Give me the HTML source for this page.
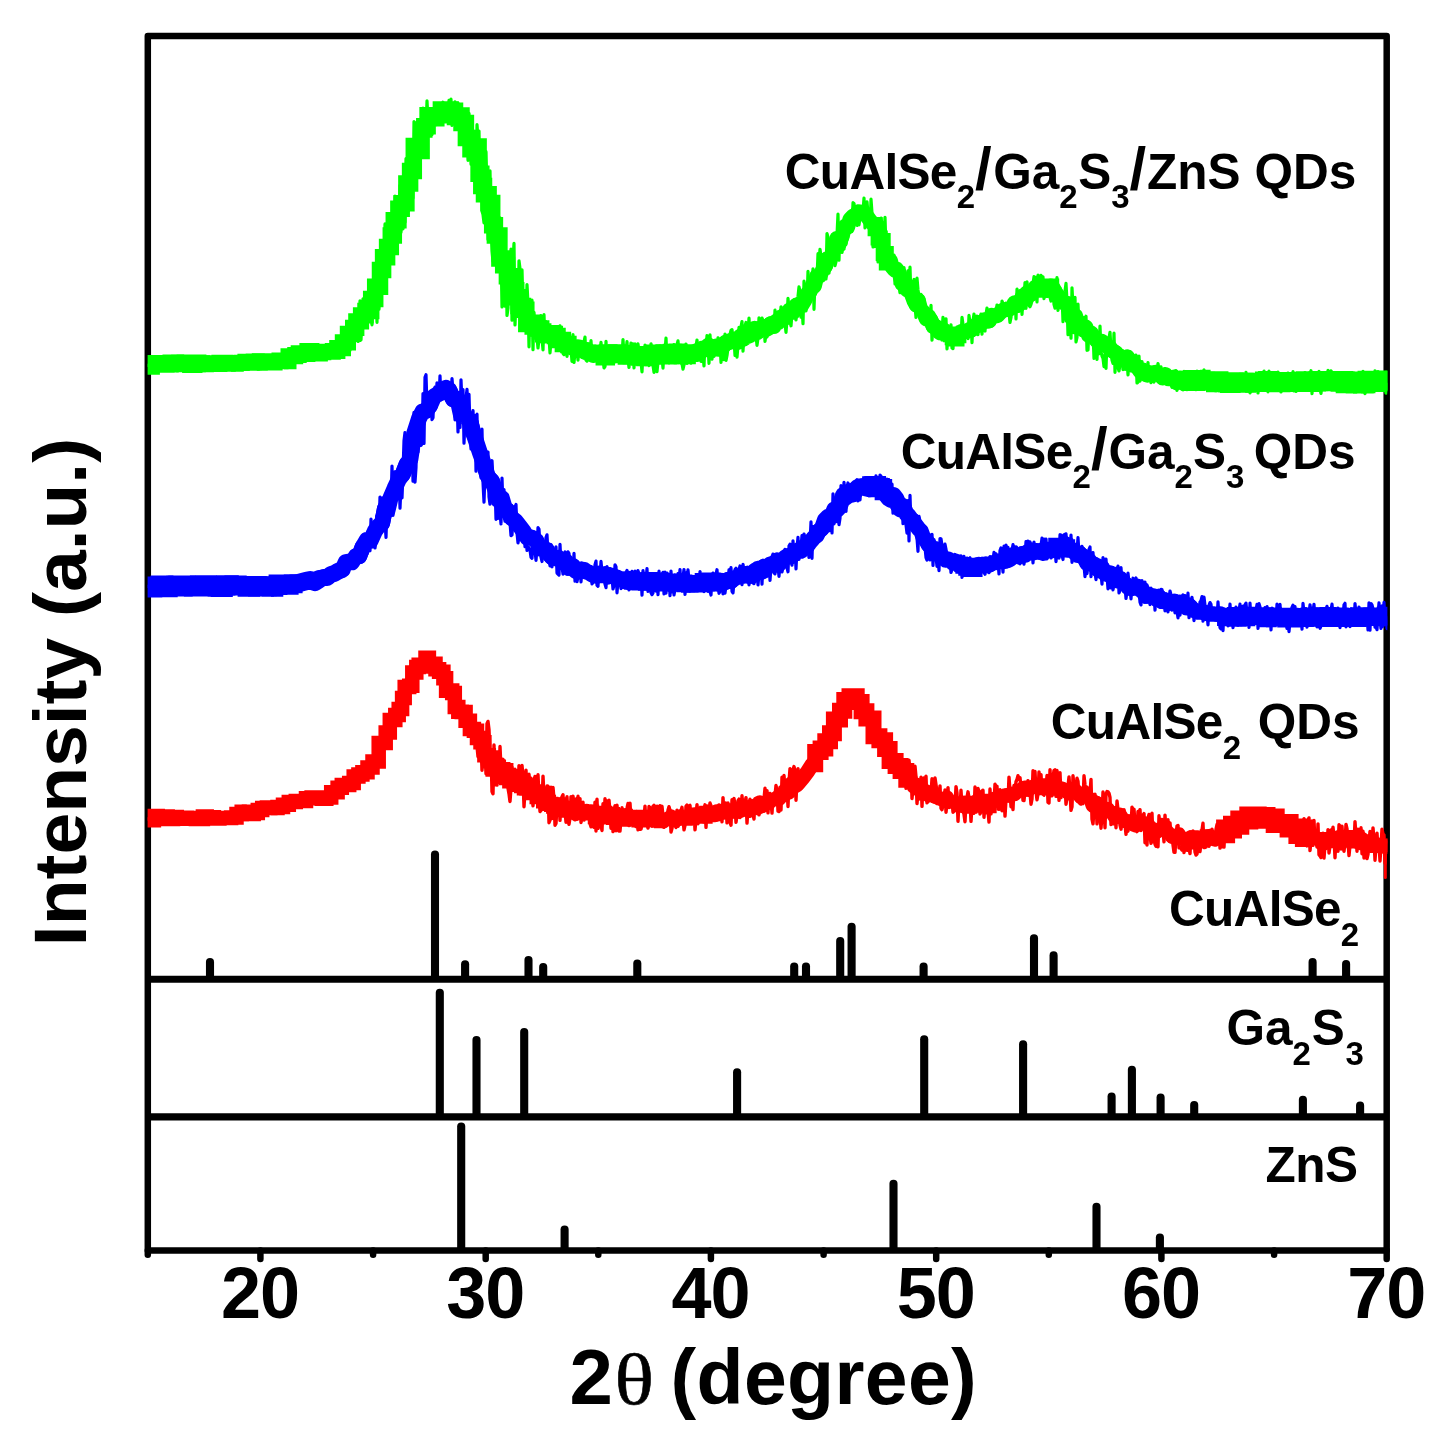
<!DOCTYPE html>
<html lang="en"><head><meta charset="utf-8"><title>XRD patterns</title>
<style>
html,body{margin:0;padding:0;background:#fff}
svg{display:block}
text{font-family:"Liberation Sans",sans-serif;font-weight:bold;fill:#000}
.s{font-size:33px}
</style></head><body>
<svg width="1449" height="1454" viewBox="0 0 1449 1454">
<rect width="1449" height="1454" fill="#fff"/>
<g stroke="#000" stroke-width="8.1" stroke-linecap="round">
<line x1="210" y1="977.8" x2="210" y2="962.0"/>
<line x1="435" y1="977.8" x2="435" y2="854.6"/>
<line x1="465.1" y1="977.8" x2="465.1" y2="964.2"/>
<line x1="528.5" y1="977.8" x2="528.5" y2="960.0"/>
<line x1="543.2" y1="977.8" x2="543.2" y2="967.0"/>
<line x1="637.3" y1="977.8" x2="637.3" y2="963.5"/>
<line x1="794.2" y1="977.8" x2="794.2" y2="966.6"/>
<line x1="806" y1="977.8" x2="806" y2="966.6"/>
<line x1="840.2" y1="977.8" x2="840.2" y2="941.0"/>
<line x1="851.6" y1="977.8" x2="851.6" y2="926.8"/>
<line x1="923.6" y1="977.8" x2="923.6" y2="966.6"/>
<line x1="1034" y1="977.8" x2="1034" y2="938.3"/>
<line x1="1053.6" y1="977.8" x2="1053.6" y2="955.4"/>
<line x1="1312.6" y1="977.8" x2="1312.6" y2="962.0"/>
<line x1="1346.1" y1="977.8" x2="1346.1" y2="964.1"/>
<line x1="439.8" y1="1115.4" x2="439.8" y2="992.8"/>
<line x1="476.5" y1="1115.4" x2="476.5" y2="1040.0"/>
<line x1="524.2" y1="1115.4" x2="524.2" y2="1032.0"/>
<line x1="737.1" y1="1115.4" x2="737.1" y2="1072.3"/>
<line x1="924.2" y1="1115.4" x2="924.2" y2="1039.2"/>
<line x1="1023.1" y1="1115.4" x2="1023.1" y2="1044.2"/>
<line x1="1111.6" y1="1115.4" x2="1111.6" y2="1096.5"/>
<line x1="1131.9" y1="1115.4" x2="1131.9" y2="1069.8"/>
<line x1="1160.6" y1="1115.4" x2="1160.6" y2="1097.5"/>
<line x1="1194.2" y1="1115.4" x2="1194.2" y2="1105.0"/>
<line x1="1302.9" y1="1115.4" x2="1302.9" y2="1099.8"/>
<line x1="1360.1" y1="1115.4" x2="1360.1" y2="1105.5"/>
<line x1="461.2" y1="1248.9" x2="461.2" y2="1126.5"/>
<line x1="564.6" y1="1248.9" x2="564.6" y2="1229.6"/>
<line x1="893.5" y1="1248.9" x2="893.5" y2="1183.8"/>
<line x1="1096.5" y1="1248.9" x2="1096.5" y2="1206.8"/>
<line x1="1159.9" y1="1248.9" x2="1159.9" y2="1237.5"/>
</g>
<rect x="147.8" y="35.9" width="1238.9" height="1214.5" fill="none" stroke="#000" stroke-width="6.5" stroke-linejoin="round"/>
<line x1="147.8" y1="979.3" x2="1386.7" y2="979.3" stroke="#000" stroke-width="6.9"/>
<line x1="147.8" y1="1116.9" x2="1386.7" y2="1116.9" stroke="#000" stroke-width="7.1"/>
<g stroke="#000" stroke-width="6.5" stroke-linecap="round">
<line x1="147.8" y1="1250.4" x2="147.8" y2="1254.7"/>
<line x1="260.4" y1="1250.4" x2="260.4" y2="1259.0"/>
<line x1="373.1" y1="1250.4" x2="373.1" y2="1254.7"/>
<line x1="485.7" y1="1250.4" x2="485.7" y2="1259.0"/>
<line x1="598.3" y1="1250.4" x2="598.3" y2="1254.7"/>
<line x1="710.9" y1="1250.4" x2="710.9" y2="1259.0"/>
<line x1="823.6" y1="1250.4" x2="823.6" y2="1254.7"/>
<line x1="936.2" y1="1250.4" x2="936.2" y2="1259.0"/>
<line x1="1048.8" y1="1250.4" x2="1048.8" y2="1254.7"/>
<line x1="1161.4" y1="1250.4" x2="1161.4" y2="1259.0"/>
<line x1="1274.1" y1="1250.4" x2="1274.1" y2="1254.7"/>
<line x1="1386.7" y1="1250.4" x2="1386.7" y2="1259.0"/>
</g>
<clipPath id="cp"><rect x="147.6" y="0" width="1239.8" height="1454"/></clipPath>
<g clip-path="url(#cp)">
<g id="red"><g stroke="#ff0000" fill="none" stroke-linejoin="miter" stroke-miterlimit="10">
<path d="M147.0,820.3H153.9V816.1H157.7V816.8H163.2V816.5H167.7V818.9H173.0V817.0H176.8V818.7H181.8" stroke-width="14.5"/>
<path d="M176.8,818.7H181.8V817.7H186.9V818.4H190.5V818.1H195.9V819.0H202.9V816.5H206.7V817.2H213.9" stroke-width="14.5"/>
<path d="M206.7,817.2H213.9V818.5H219.4V817.9H223.8V818.1H231.1V817.4H236.5V813.9H241.7V811.7H246.8" stroke-width="14.5"/>
<path d="M241.7,811.7H246.8V814.1H253.7V812.9H257.8V809.9H262.2V808.1H266.9V807.4H270.7V808.0H277.5" stroke-width="14.5"/>
<path d="M270.7,808.0H277.5V806.9H283.0V804.8H288.8V801.9H295.8V801.1H301.3V801.1H306.0V798.3H311.6" stroke-width="14.5"/>
<path d="M306.0,798.3H311.6V797.6H317.1V797.6H321.8V798.8H326.3V797.4H331.2V792.2H337.6V787.7H341.8" stroke-width="14.5"/>
<path d="M337.6,787.7H341.8V784.9H349.2V782.9H353.7V776.6H358.4V774.4H362.4V772.3H367.5V767.5H372.5" stroke-width="14.5"/>
<path d="M367.5,767.5H372.5V761.5H378.7V743.0H385.7V732.5H389.8V719.9H395.3V715.0H398.7V709.1H402.1" stroke-width="14.5"/>
<path d="M398.7,709.1H402.1V698.0H404.7V687.1H409.2V685.7H412.3V672.4H416.3V666.9H418.7V664.8H422.7" stroke-width="14.5"/>
<path d="M418.7,664.8H422.7V666.4H425.5V657.8H428.9V664.0H432.8V663.8H435.5V669.2H439.1V671.8H443.4" stroke-width="14.5"/>
<path d="M439.1,671.8H443.4V678.3H446.1V690.7H449.5V690.6H452.2V693.1H454.8V706.9H458.3V711.7H461.7" stroke-width="14.5"/>
<path d="M458.3,711.7H461.7V712.0H465.6V720.8H469.9V728.9H473.9V730.8H477.0V738.0H480.5V742.3H484.4" stroke-width="14.5"/>
<path d="M480.5,742.3H484.4V755.3H488.8V757.4H492.7V769.6H496.2V766.8H498.8V769.3H503.2V770.3H506.2" stroke-width="14.5"/>
<path d="M503.2,770.3H506.2V777.9H509.4V781.3H513.9V780.1H516.7V784.7H521.2V786.0H524.0V788.3H526.4" stroke-width="14.5"/>
<path d="M524.0,788.3H526.4V788.4H529.8V793.1H533.7V791.5H536.7V797.0H540.5V796.9H543.2V801.4H546.8" stroke-width="14.4"/>
<path d="M543.2,801.4H546.8V802.0H548.9V803.8H551.2V804.9H553.2V806.6H556.3V804.4H558.9V804.9H561.7" stroke-width="14.3"/>
<path d="M557.6,804.4 560.3,804.9 562.7,810.6 565.2,806.9 568.3,808.2 570.9,808.2 572.9,811.1 575.5,813.8" stroke-width="14.2" stroke-linejoin="round" stroke-linecap="round"/>
<path d="M572.9,811.1 575.5,813.8 578.7,811.3 581.8,811.6 584.4,812.3 586.7,810.9 588.9,811.5 591.0,811.5" stroke-width="14.2" stroke-linejoin="round" stroke-linecap="round"/>
<path d="M589.8,811.5H592.1V813.4H594.8V817.3H596.9V812.7H599.2V815.2H601.5V813.5H603.3V812.7H605.0" stroke-width="14.1"/>
<path d="M603.3,812.7H605.0V817.4H608.0V813.6H609.6V813.9H613.0V818.1H616.2V815.3H619.5V815.4H622.5" stroke-width="14.0"/>
<path d="M619.5,815.4H622.5V819.8H624.2V815.7H626.0V819.5H628.2V816.7H630.1V818.2H631.8V816.9H635.1" stroke-width="13.9"/>
<path d="M631.8,816.9H635.1V817.2H638.3V820.7H641.3V820.6H643.3V816.7H646.4V819.9H649.5V816.8H651.7" stroke-width="13.8"/>
<path d="M649.5,816.8H651.7V817.9H653.5V816.8H655.4V820.3H657.7V821.0H660.8V821.3H662.6V821.5H665.0" stroke-width="13.7"/>
<path d="M661.7,821.3 663.8,821.5 666.1,819.3 668.8,817.8 671.3,816.3 673.7,818.2 676.2,820.4 678.6,817.1" stroke-width="13.7" stroke-linejoin="round" stroke-linecap="round"/>
<path d="M677.2,817.1H680.0V817.6H683.1V818.9H686.1V818.3H689.2V817.4H691.4V816.4H693.5V814.2H695.3" stroke-width="13.6"/>
<path d="M693.5,814.2H695.3V816.9H697.4V814.8H699.2V816.2H702.2V813.2H703.9V817.1H705.9V812.4H708.9" stroke-width="13.5"/>
<path d="M704.9,817.1 707.4,812.4 710.4,815.5 713.5,815.6 716.3,811.1 718.3,814.8 720.7,813.3 723.3,812.7" stroke-width="13.5" stroke-linejoin="round" stroke-linecap="round"/>
<path d="M722.2,812.7H724.4V810.5H727.3V810.6H729.0V809.9H730.7V810.9H733.4V811.7H736.2V811.9H738.8" stroke-width="13.5"/>
<path d="M734.8,811.7 737.5,811.9 740.1,811.4 742.7,808.9 744.9,808.4 746.7,810.5 748.7,811.2 751.1,806.1" stroke-width="13.5" stroke-linejoin="round" stroke-linecap="round"/>
<path d="M748.7,811.2 751.1,806.1 753.5,806.5 755.5,805.1 757.6,808.5 760.0,802.0 762.2,806.4 764.9,804.7" stroke-width="13.5" stroke-linejoin="round" stroke-linecap="round"/>
<path d="M762.2,806.4 764.9,804.7 768.2,800.9 770.6,802.0 772.7,799.2 775.0,799.7 777.1,797.2 779.1,799.2" stroke-width="13.5" stroke-linejoin="round" stroke-linecap="round"/>
<path d="M777.1,797.2 779.1,799.2 780.8,795.0 782.5,796.3 784.3,793.3 786.6,789.8 788.8,792.1 791.3,783.8" stroke-width="13.5" stroke-linejoin="round" stroke-linecap="round"/>
<path d="M788.8,792.1 791.3,783.8 794.4,786.2 797.0,784.7 799.4,782.0 803.2,777.4 807.5,771.8 812.3,764.2" stroke-width="14.9" stroke-linejoin="round" stroke-linecap="round"/>
<path d="M809.5,764.2H815.2V751.9H820.6V748.5H825.3V741.3H830.0V733.2H833.9V719.4H840.0V710.8H844.3" stroke-width="16.0"/>
<path d="M840.0,710.8H844.3V700.1H849.5V696.3H856.7V702.1H861.6V711.3H866.4V718.4H873.5V736.2H879.4" stroke-width="16.0"/>
<path d="M873.5,736.2H879.4V740.3H885.1V749.1H889.6V761.1H895.6V766.0H900.6V771.1H906.3V779.8H909.9" stroke-width="16.0"/>
<path d="M903.5,771.1 908.1,779.8 910.8,778.4 913.3,786.7 916.3,784.3 919.4,790.8 922.1,789.9 924.2,794.0" stroke-width="13.5" stroke-linejoin="round" stroke-linecap="round"/>
<path d="M922.1,789.9 924.2,794.0 926.2,790.9 928.2,795.8 930.4,792.9 932.5,794.8 934.5,796.9 936.6,797.3" stroke-width="13.5" stroke-linejoin="round" stroke-linecap="round"/>
<path d="M934.5,796.9 936.6,797.3 939.2,798.9 942.0,799.8 944.7,797.9 947.1,796.9 949.0,801.5 951.6,801.7" stroke-width="13.5" stroke-linejoin="round" stroke-linecap="round"/>
<path d="M949.0,801.5 951.6,801.7 954.1,802.6 955.8,802.9 957.9,806.0 960.3,802.7 962.3,806.4 964.7,802.4" stroke-width="13.5" stroke-linejoin="round" stroke-linecap="round"/>
<path d="M963.3,802.4H966.0V805.5H968.7V807.0H970.6V802.5H973.2V806.0H975.6V803.2H978.7V802.0H980.5" stroke-width="13.5"/>
<path d="M978.7,802.0H980.5V804.1H982.5V805.5H985.1V803.0H986.8V806.6H989.9V800.6H993.2V801.4H995.4" stroke-width="13.5"/>
<path d="M991.6,800.6 994.3,801.4 996.9,800.8 999.5,799.8 1002.1,798.1 1004.8,795.0 1006.6,795.2 1008.3,794.6" stroke-width="13.5" stroke-linejoin="round" stroke-linecap="round"/>
<path d="M1006.6,795.2 1008.3,794.6 1010.4,796.2 1012.4,793.3 1014.9,794.4 1018.0,791.4 1020.6,789.8 1023.3,787.7" stroke-width="13.5" stroke-linejoin="round" stroke-linecap="round"/>
<path d="M1020.6,789.8 1023.3,787.7 1025.9,787.2 1028.6,790.3 1031.6,786.8 1034.3,785.6 1036.5,784.8 1038.5,788.4" stroke-width="13.5" stroke-linejoin="round" stroke-linecap="round"/>
<path d="M1037.6,788.4H1039.5V787.3H1041.6V787.2H1043.9V787.9H1045.6V784.9H1048.9V788.4H1051.0V785.1H1053.5" stroke-width="13.5"/>
<path d="M1049.9,788.4 1052.2,785.1 1054.4,789.1 1056.6,787.5 1059.2,790.1 1061.5,788.0 1064.1,789.3 1066.7,791.8" stroke-width="13.5" stroke-linejoin="round" stroke-linecap="round"/>
<path d="M1064.1,789.3 1066.7,791.8 1068.7,793.8 1071.2,790.8 1073.7,790.4 1076.4,790.9 1079.0,795.3 1081.1,797.6" stroke-width="13.5" stroke-linejoin="round" stroke-linecap="round"/>
<path d="M1079.0,795.3 1081.1,797.6 1083.6,793.1 1086.6,797.0 1089.8,798.2 1092.4,805.9 1094.8,801.8 1097.2,802.9" stroke-width="13.5" stroke-linejoin="round" stroke-linecap="round"/>
<path d="M1094.8,801.8 1097.2,802.9 1099.8,809.0 1102.2,811.6 1104.8,811.4 1107.7,808.5 1110.1,811.6 1112.2,813.3" stroke-width="13.5" stroke-linejoin="round" stroke-linecap="round"/>
<path d="M1110.1,811.6 1112.2,813.3 1114.4,816.8 1117.1,817.3 1120.0,814.2 1122.5,818.1 1125.5,821.5 1128.3,821.0" stroke-width="13.5" stroke-linejoin="round" stroke-linecap="round"/>
<path d="M1125.5,821.5 1128.3,821.0 1131.1,822.6 1133.8,825.1 1135.7,825.7 1137.4,825.2 1139.7,824.2 1142.3,823.2" stroke-width="13.5" stroke-linejoin="round" stroke-linecap="round"/>
<path d="M1139.7,824.2 1142.3,823.2 1145.0,822.9 1147.8,823.7 1150.5,827.3 1153.0,828.8 1155.5,830.1 1158.2,831.4" stroke-width="13.5" stroke-linejoin="round" stroke-linecap="round"/>
<path d="M1155.5,830.1 1158.2,831.4 1160.8,828.4 1163.2,829.7 1166.0,829.9 1169.2,833.3 1171.9,836.9 1173.9,836.4" stroke-width="13.5" stroke-linejoin="round" stroke-linecap="round"/>
<path d="M1171.9,836.9 1173.9,836.4 1176.3,835.1 1179.1,834.2 1181.9,839.0 1185.1,839.9 1187.7,839.5 1190.4,837.0" stroke-width="13.5" stroke-linejoin="round" stroke-linecap="round"/>
<path d="M1188.8,837.0H1191.9V837.9H1194.5V839.3H1197.4V841.4H1200.6V837.3H1203.2V838.3H1206.5V836.1H1208.8" stroke-width="13.5"/>
<path d="M1204.8,838.3 1207.6,836.1 1209.9,835.6 1212.5,836.8 1215.0,839.9 1217.6,838.6 1220.3,836.4 1223.6,833.8" stroke-width="13.5" stroke-linejoin="round" stroke-linecap="round"/>
<path d="M1221.6,833.8H1225.6V828.9H1232.5V825.2H1239.8V819.9H1248.8V816.1H1257.2V816.5H1266.0V819.3H1270.6" stroke-width="19.0"/>
<path d="M1266.0,819.3H1270.6V818.0H1275.2V823.5H1282.9V823.6H1289.1V827.9H1297.9V834.6H1304.4V837.5H1308.4" stroke-width="19.0"/>
<path d="M1301.1,834.6 1306.4,837.5 1309.4,833.6 1311.8,838.0 1314.7,838.5 1317.9,838.4 1320.6,841.6 1323.0,841.1" stroke-width="13.5" stroke-linejoin="round" stroke-linecap="round"/>
<path d="M1321.8,841.1H1324.2V838.7H1326.8V840.3H1329.0V841.5H1331.5V840.9H1334.8V840.3H1338.0V841.4H1340.1" stroke-width="13.5"/>
<path d="M1338.0,841.4H1340.1V837.6H1343.0V836.9H1346.2V836.7H1348.5V840.2H1351.6V839.1H1354.6V841.7H1357.8" stroke-width="13.5"/>
<path d="M1353.1,839.1 1356.2,841.7 1358.7,842.9 1361.2,838.1 1364.5,840.4 1367.2,841.4 1369.6,843.2 1371.8,846.3" stroke-width="13.5" stroke-linejoin="round" stroke-linecap="round"/>
<path d="M1369.6,843.2 1371.8,846.3 1374.1,845.0 1376.8,843.8 1379.7,846.7 1382.8,845.4 1385.4,847.6 1387.2,845.3" stroke-width="13.5" stroke-linejoin="round" stroke-linecap="round"/>
<path d="M1386.5,845.3H1388.0" stroke-width="13.5"/>
<path d="M147.0,819.0 148.0,818.9 149.0,818.9 150.0,818.8 151.0,818.7 152.0,818.7 153.0,818.6 154.0,818.5 155.0,818.5 156.0,818.4 157.0,818.3 158.0,818.3 159.0,818.2 160.0,818.1 161.0,818.1 162.0,818.0 163.0,817.9 164.0,817.9 165.0,817.8 166.0,817.8 167.0,817.7 168.0,817.7 169.0,817.6 170.0,817.5 171.0,817.5 172.0,817.5 173.0,817.4 174.0,817.3 175.0,817.3 176.0,817.2 177.0,817.2 178.0,817.1 179.0,817.1 180.0,817.0 181.0,817.0 182.0,817.0 183.0,816.9 184.0,816.9 185.0,816.8 186.0,816.8 187.0,816.8 188.0,816.8 189.0,816.7 190.0,816.7 191.0,816.7 192.0,816.7 193.0,816.7 194.0,816.8 195.0,816.8 196.0,816.8 197.0,816.9 198.0,817.0 199.0,817.1 200.0,817.1 201.0,817.2 202.0,817.3 203.0,817.4 204.0,817.5 205.0,817.6 206.0,817.7 207.0,817.8 208.0,817.8 209.0,817.9 210.0,817.9 211.0,818.0 212.0,818.0 213.0,818.0 214.0,818.0 215.0,817.9 216.0,817.9 217.0,817.8 218.0,817.8 219.0,817.7 220.0,817.6 221.0,817.5 222.0,817.4 223.0,817.3 224.0,817.2 225.0,817.1 226.0,816.9 227.0,816.8 228.0,816.7 229.0,816.5 230.0,816.4 231.0,816.3 232.0,816.1 233.0,816.0 234.0,815.9 235.0,815.7 236.0,815.5 237.0,815.4 238.0,815.2 239.0,815.0 240.0,814.8 241.0,814.6 242.0,814.4 243.0,814.2 244.0,813.9 245.0,813.7 246.0,813.5 247.0,813.3 248.0,813.1 249.0,812.9 250.0,812.7 251.0,812.5 252.0,812.3 253.0,812.2 254.0,812.0 255.0,811.9 256.0,811.7 257.0,811.6 258.0,811.5 259.0,811.4 260.0,811.3 261.0,811.1 262.0,811.0 263.0,810.9 264.0,810.8 265.0,810.7 266.0,810.6 267.0,810.5 268.0,810.4 269.0,810.3 270.0,810.2 271.0,810.0 272.0,809.9 273.0,809.7 274.0,809.6 275.0,809.4 276.0,809.2 277.0,809.0 278.0,808.8 279.0,808.6 280.0,808.3 281.0,808.0 282.0,807.8 283.0,807.5 284.0,807.2 285.0,806.9 286.0,806.6 287.0,806.3 288.0,806.0 289.0,805.7 290.0,805.4 291.0,805.1 292.0,804.8 293.0,804.5 294.0,804.3 295.0,804.0 296.0,803.8 297.0,803.5 298.0,803.3 299.0,803.0 300.0,802.8 301.0,802.6 302.0,802.4 303.0,802.1 304.0,801.9 305.0,801.7 306.0,801.5 307.0,801.2 308.0,801.0 309.0,800.8 310.0,800.5 311.0,800.3 312.0,800.1 313.0,799.8 314.0,799.5 315.0,799.3 316.0,799.0 317.0,798.7 318.0,798.4 319.0,798.1 320.0,797.8 321.0,797.5 322.0,797.2 323.0,796.9 324.0,796.6 325.0,796.3 326.0,796.0 327.0,795.6 328.0,795.3 329.0,794.9 330.0,794.5 331.0,794.2 332.0,793.8 333.0,793.4 334.0,793.0 335.0,792.5 336.0,792.1 337.0,791.6 338.0,791.1 339.0,790.6 340.0,790.1 341.0,789.5 342.0,788.9 343.0,788.3 344.0,787.7 345.0,787.0 346.0,786.3 347.0,785.5 348.0,784.7 349.0,783.9 350.0,783.0 351.0,782.0 352.0,781.1 353.0,780.1 354.0,779.1 355.0,778.2 356.0,777.2 357.0,776.4 358.0,775.6 359.0,774.9 360.0,774.2 361.0,773.6 362.0,773.0 363.0,772.4 364.0,771.7 365.0,771.0 366.0,770.3 367.0,769.5 368.0,768.6 369.0,767.6 370.0,766.5 371.0,765.3 372.0,764.0 373.0,762.7 374.0,761.2 375.0,759.7 376.0,758.2 377.0,756.6 378.0,754.9 379.0,753.1 380.0,751.2 381.0,749.2 382.0,747.2 383.0,745.0 384.0,742.8 385.0,740.5 386.0,738.3 387.0,736.1 388.0,733.9 389.0,731.7 390.0,729.6 391.0,727.5 392.0,725.4 393.0,723.2 394.0,721.1 395.0,719.0 396.0,716.9 397.0,714.8 398.0,712.7 399.0,710.6 400.0,708.5 401.0,706.4 402.0,704.4 403.0,702.3 404.0,700.2 405.0,698.2 406.0,696.1 407.0,694.1 408.0,692.0 409.0,690.0 410.0,687.9 411.0,685.8 412.0,683.8 413.0,681.7 414.0,679.6 415.0,677.6 416.0,675.6 417.0,673.6 418.0,671.7 419.0,669.9 420.0,668.0 421.0,666.2 422.0,664.3 423.0,662.6 424.0,661.1 425.0,660.0 426.0,659.3 427.0,659.1 428.0,659.3 429.0,659.9 430.0,660.8 431.0,661.7 432.0,662.8 433.0,664.1 434.0,665.4 435.0,667.0 436.0,668.6 437.0,670.3 438.0,672.1 439.0,673.9 440.0,675.6 441.0,677.3 442.0,678.9 443.0,680.4 444.0,681.9 445.0,683.3 446.0,684.7 447.0,686.0 448.0,687.4 449.0,688.8 450.0,690.3 451.0,691.7 452.0,693.3 453.0,694.9 454.0,696.6 455.0,698.4 456.0,700.2 457.0,702.1 458.0,704.0 459.0,705.9 460.0,707.8 461.0,709.7 462.0,711.5 463.0,713.3 464.0,715.1 465.0,716.8 466.0,718.5 467.0,720.2 468.0,721.9 469.0,723.5 470.0,725.1 471.0,726.8 472.0,728.4 473.0,730.0 474.0,731.5 475.0,733.1 476.0,734.6 477.0,746.3 478.0,756.6 479.0,757.2 480.0,731.4 481.0,742.5 482.0,770.2 483.0,745.8 484.0,766.8 485.0,750.9 486.0,773.7 487.0,723.7 488.0,721.4 489.0,729.6 490.0,754.8 491.0,752.3 492.0,791.5 493.0,793.8 494.0,745.0 495.0,784.8 496.0,768.0 497.0,785.1 498.0,762.0 499.0,782.4 500.0,746.5 501.0,768.5 502.0,762.5 503.0,759.3 504.0,762.1 505.0,768.6 506.0,773.5 507.0,776.2 508.0,788.2 509.0,793.9 510.0,801.5 511.0,787.9 512.0,767.1 513.0,784.9 514.0,778.2 515.0,769.3 516.0,774.7 517.0,770.9 518.0,786.0 519.0,765.6 520.0,787.3 521.0,781.6 522.0,765.5 523.0,777.0 524.0,806.7 525.0,791.3 526.0,770.2 527.0,792.2 528.0,797.9 529.0,774.3 530.0,785.7 531.0,778.2 532.0,793.1 533.0,805.8 534.0,780.4 535.0,776.5 536.0,776.9 537.0,799.8 538.0,774.8 539.0,797.2 540.0,811.5 541.0,810.4 542.0,806.7 543.0,776.2 544.0,796.3 545.0,788.4 546.0,802.0 547.0,786.0 548.0,786.2 549.0,822.7 550.0,820.1 551.0,787.2 552.0,818.5 553.0,787.5 554.0,798.8 555.0,825.3 556.0,823.4 557.0,805.2 558.0,814.8 559.0,802.4 560.0,820.4 561.0,800.5 562.0,796.7 563.0,794.8 564.0,813.2 565.0,810.5 566.0,822.2 567.0,796.7 568.0,819.5 569.0,824.3 570.0,818.1 571.0,796.6 572.0,798.1 573.0,796.2 574.0,804.6 575.0,819.9 576.0,798.9 577.0,809.5 578.0,796.3 579.0,818.2 580.0,798.6 581.0,822.5 582.0,816.7 583.0,802.3 584.0,820.0 585.0,808.0 586.0,814.3 587.0,815.7 588.0,805.9 589.0,810.9 590.0,823.6 591.0,826.8 592.0,826.3 593.0,816.9 594.0,827.3 595.0,802.1 596.0,831.0 597.0,799.2 598.0,828.4 599.0,825.0 600.0,810.9 601.0,825.1 602.0,830.5 603.0,803.7 604.0,820.6 605.0,798.8 606.0,821.2 607.0,800.9 608.0,821.5 609.0,800.1 610.0,812.4 611.0,828.2 612.0,809.4 613.0,831.6 614.0,815.2 615.0,805.8 616.0,830.7 617.0,805.3 618.0,820.0 619.0,831.1 620.0,831.1 621.0,819.0 622.0,807.8 623.0,817.3 624.0,810.6 625.0,811.4 626.0,811.6 627.0,808.2 628.0,803.5 629.0,825.6 630.0,803.1 631.0,820.3 632.0,813.7 633.0,822.7 634.0,820.6 635.0,817.3 636.0,826.5 637.0,820.5 638.0,829.9 639.0,820.9 640.0,829.3 641.0,829.0 642.0,824.6 643.0,813.2 644.0,818.0 645.0,806.2 646.0,825.3 647.0,823.1 648.0,828.1 649.0,806.5 650.0,807.7 651.0,823.4 652.0,826.0 653.0,806.4 654.0,805.3 655.0,813.8 656.0,814.4 657.0,806.2 658.0,807.7 659.0,810.8 660.0,805.7 661.0,809.5 662.0,806.3 663.0,816.0 664.0,827.3 665.0,824.9 666.0,823.2 667.0,818.8 668.0,810.2 669.0,806.7 670.0,810.2 671.0,832.0 672.0,828.2 673.0,820.9 674.0,822.0 675.0,825.5 676.0,827.4 677.0,810.1 678.0,826.4 679.0,821.8 680.0,810.6 681.0,810.7 682.0,807.3 683.0,818.2 684.0,829.9 685.0,825.3 686.0,806.3 687.0,805.0 688.0,809.5 689.0,806.1 690.0,805.4 691.0,823.0 692.0,810.2 693.0,817.9 694.0,810.0 695.0,829.8 696.0,818.5 697.0,804.7 698.0,823.7 699.0,808.8 700.0,813.7 701.0,808.5 702.0,814.6 703.0,808.8 704.0,809.1 705.0,804.8 706.0,827.4 707.0,805.9 708.0,807.8 709.0,811.3 710.0,803.0 711.0,805.9 712.0,810.8 713.0,816.1 714.0,814.5 715.0,809.3 716.0,818.3 717.0,820.1 718.0,806.0 719.0,805.1 720.0,816.3 721.0,809.7 722.0,821.8 723.0,797.6 724.0,813.5 725.0,807.2 726.0,803.1 727.0,822.8 728.0,803.0 729.0,820.3 730.0,822.0 731.0,825.2 732.0,799.7 733.0,800.7 734.0,798.6 735.0,805.6 736.0,822.3 737.0,814.9 738.0,800.6 739.0,799.1 740.0,817.5 741.0,813.8 742.0,795.8 743.0,812.5 744.0,800.5 745.0,803.2 746.0,797.6 747.0,823.1 748.0,807.2 749.0,812.0 750.0,799.3 751.0,803.9 752.0,812.1 753.0,814.7 754.0,819.0 755.0,798.8 756.0,798.3 757.0,802.8 758.0,799.6 759.0,814.9 760.0,800.7 761.0,800.4 762.0,804.2 763.0,805.9 764.0,798.8 765.0,788.3 766.0,810.1 767.0,790.6 768.0,812.9 769.0,793.6 770.0,793.4 771.0,802.0 772.0,813.1 773.0,795.8 774.0,798.6 775.0,795.9 776.0,785.5 777.0,790.5 778.0,811.2 779.0,811.5 780.0,787.1 781.0,810.0 782.0,777.2 783.0,801.9 784.0,775.5 785.0,789.1 786.0,787.7 787.0,787.6 788.0,806.5 789.0,782.3 790.0,768.7 791.0,771.1 792.0,795.4 793.0,770.0 794.0,766.6 795.0,770.8 796.0,800.2 797.0,779.0 798.0,768.6 799.0,785.1 800.0,775.4 801.0,779.8 802.0,777.7 803.0,776.8 804.0,775.9 805.0,774.7 806.0,773.4 807.0,771.8 808.0,770.0 809.0,768.0 810.0,766.0 811.0,763.8 812.0,761.7 813.0,759.7 814.0,757.9 815.0,756.2 816.0,754.7 817.0,753.4 818.0,752.2 819.0,751.0 820.0,749.9 821.0,748.8 822.0,747.6 823.0,746.4 824.0,745.1 825.0,743.7 826.0,742.2 827.0,740.5 828.0,738.6 829.0,736.6 830.0,734.5 831.0,732.4 832.0,730.2 833.0,728.0 834.0,725.9 835.0,723.8 836.0,721.7 837.0,719.7 838.0,717.7 839.0,715.7 840.0,713.8 841.0,711.8 842.0,710.0 843.0,708.2 844.0,706.5 845.0,705.0 846.0,703.6 847.0,702.2 848.0,700.9 849.0,699.7 850.0,698.7 851.0,698.0 852.0,697.6 853.0,697.8 854.0,698.4 855.0,699.4 856.0,700.5 857.0,701.7 858.0,702.9 859.0,704.0 860.0,705.2 861.0,706.3 862.0,707.5 863.0,708.7 864.0,709.9 865.0,711.2 866.0,712.6 867.0,714.2 868.0,715.8 869.0,717.6 870.0,719.6 871.0,721.6 872.0,723.7 873.0,725.9 874.0,728.0 875.0,730.2 876.0,732.2 877.0,734.1 878.0,736.0 879.0,737.8 880.0,739.5 881.0,741.2 882.0,742.8 883.0,744.5 884.0,746.1 885.0,747.6 886.0,749.2 887.0,750.7 888.0,752.2 889.0,753.8 890.0,755.2 891.0,756.7 892.0,758.2 893.0,759.6 894.0,761.0 895.0,762.4 896.0,763.8 897.0,765.1 898.0,766.4 899.0,767.6 900.0,768.8 901.0,770.0 902.0,771.1 903.0,772.2 904.0,773.3 905.0,774.4 906.0,788.3 907.0,762.4 908.0,785.8 909.0,760.3 910.0,769.8 911.0,767.0 912.0,798.5 913.0,787.7 914.0,791.4 915.0,766.1 916.0,776.9 917.0,803.5 918.0,792.5 919.0,799.0 920.0,788.8 921.0,777.3 922.0,806.4 923.0,781.0 924.0,778.1 925.0,797.6 926.0,776.2 927.0,802.9 928.0,801.4 929.0,788.8 930.0,794.7 931.0,793.9 932.0,778.8 933.0,779.5 934.0,790.0 935.0,777.9 936.0,784.7 937.0,791.8 938.0,802.5 939.0,798.5 940.0,785.9 941.0,808.2 942.0,809.7 943.0,805.2 944.0,806.3 945.0,789.9 946.0,812.2 947.0,803.2 948.0,787.6 949.0,807.5 950.0,805.7 951.0,803.8 952.0,800.0 953.0,812.2 954.0,811.3 955.0,806.3 956.0,786.6 957.0,793.0 958.0,821.3 959.0,799.8 960.0,809.0 961.0,790.3 962.0,806.9 963.0,808.5 964.0,814.3 965.0,821.7 966.0,802.5 967.0,797.2 968.0,791.8 969.0,798.1 970.0,802.2 971.0,821.4 972.0,805.0 973.0,811.2 974.0,813.2 975.0,787.0 976.0,794.6 977.0,806.1 978.0,788.4 979.0,791.6 980.0,814.0 981.0,811.2 982.0,791.0 983.0,790.2 984.0,817.3 985.0,803.1 986.0,797.0 987.0,812.8 988.0,810.5 989.0,822.0 990.0,789.0 991.0,813.8 992.0,801.7 993.0,793.4 994.0,802.8 995.0,784.2 996.0,787.5 997.0,786.3 998.0,809.2 999.0,809.4 1000.0,789.8 1001.0,791.8 1002.0,810.7 1003.0,794.0 1004.0,791.9 1005.0,816.1 1006.0,799.4 1007.0,798.6 1008.0,801.1 1009.0,777.1 1010.0,790.8 1011.0,806.7 1012.0,800.7 1013.0,809.5 1014.0,785.5 1015.0,791.8 1016.0,781.8 1017.0,779.5 1018.0,775.7 1019.0,779.4 1020.0,777.7 1021.0,788.0 1022.0,786.5 1023.0,800.4 1024.0,800.6 1025.0,791.0 1026.0,795.2 1027.0,787.1 1028.0,780.6 1029.0,787.9 1030.0,792.7 1031.0,804.2 1032.0,799.0 1033.0,770.8 1034.0,792.2 1035.0,771.5 1036.0,791.4 1037.0,799.7 1038.0,794.0 1039.0,772.0 1040.0,783.1 1041.0,774.7 1042.0,792.2 1043.0,794.1 1044.0,795.2 1045.0,780.4 1046.0,790.3 1047.0,775.5 1048.0,802.4 1049.0,803.0 1050.0,769.7 1051.0,789.9 1052.0,795.9 1053.0,777.5 1054.0,770.6 1055.0,769.8 1056.0,796.4 1057.0,770.5 1058.0,784.3 1059.0,800.4 1060.0,772.6 1061.0,797.5 1062.0,786.9 1063.0,785.6 1064.0,789.5 1065.0,784.6 1066.0,804.2 1067.0,797.5 1068.0,786.5 1069.0,776.9 1070.0,791.7 1071.0,810.3 1072.0,806.8 1073.0,775.8 1074.0,786.7 1075.0,791.4 1076.0,789.1 1077.0,778.2 1078.0,781.3 1079.0,795.7 1080.0,803.7 1081.0,804.1 1082.0,802.9 1083.0,803.6 1084.0,775.8 1085.0,784.7 1086.0,790.2 1087.0,787.2 1088.0,793.7 1089.0,795.0 1090.0,793.1 1091.0,779.4 1092.0,819.1 1093.0,823.8 1094.0,809.4 1095.0,794.1 1096.0,802.7 1097.0,823.8 1098.0,810.9 1099.0,815.6 1100.0,816.2 1101.0,828.2 1102.0,815.2 1103.0,792.0 1104.0,809.5 1105.0,827.7 1106.0,794.3 1107.0,791.5 1108.0,791.9 1109.0,793.2 1110.0,797.5 1111.0,824.6 1112.0,817.7 1113.0,823.9 1114.0,816.7 1115.0,807.8 1116.0,827.7 1117.0,801.0 1118.0,809.6 1119.0,812.6 1120.0,825.2 1121.0,829.2 1122.0,821.3 1123.0,823.6 1124.0,809.6 1125.0,823.8 1126.0,834.4 1127.0,817.6 1128.0,831.2 1129.0,821.4 1130.0,821.9 1131.0,826.2 1132.0,807.2 1133.0,810.4 1134.0,809.2 1135.0,824.2 1136.0,829.9 1137.0,831.6 1138.0,811.5 1139.0,816.6 1140.0,809.6 1141.0,830.5 1142.0,820.8 1143.0,815.2 1144.0,813.6 1145.0,842.8 1146.0,824.4 1147.0,845.0 1148.0,818.3 1149.0,814.4 1150.0,835.3 1151.0,843.2 1152.0,813.2 1153.0,841.9 1154.0,831.3 1155.0,844.2 1156.0,846.2 1157.0,825.1 1158.0,846.8 1159.0,815.8 1160.0,826.9 1161.0,827.2 1162.0,819.4 1163.0,829.9 1164.0,841.8 1165.0,815.1 1166.0,830.9 1167.0,833.4 1168.0,819.8 1169.0,839.2 1170.0,822.9 1171.0,836.9 1172.0,837.3 1173.0,844.9 1174.0,852.4 1175.0,852.4 1176.0,835.5 1177.0,825.9 1178.0,825.4 1179.0,847.9 1180.0,847.1 1181.0,848.5 1182.0,850.0 1183.0,839.9 1184.0,852.5 1185.0,843.7 1186.0,842.8 1187.0,850.4 1188.0,843.8 1189.0,848.0 1190.0,853.6 1191.0,834.2 1192.0,847.8 1193.0,831.0 1194.0,838.1 1195.0,851.9 1196.0,855.1 1197.0,854.1 1198.0,847.8 1199.0,850.6 1200.0,851.5 1201.0,842.7 1202.0,830.3 1203.0,823.2 1204.0,847.6 1205.0,847.6 1206.0,846.7 1207.0,841.7 1208.0,844.3 1209.0,846.3 1210.0,839.8 1211.0,844.2 1212.0,829.2 1213.0,839.6 1214.0,842.7 1215.0,840.5 1216.0,829.3 1217.0,824.5 1218.0,843.2 1219.0,822.7 1220.0,848.1 1221.0,823.5 1222.0,846.8 1223.0,829.3 1224.0,847.1 1225.0,825.3 1226.0,832.3 1227.0,831.5 1228.0,830.7 1229.0,829.9 1230.0,829.1 1231.0,828.3 1232.0,827.5 1233.0,826.7 1234.0,825.9 1235.0,825.1 1236.0,824.3 1237.0,823.6 1238.0,822.9 1239.0,822.3 1240.0,821.7 1241.0,821.2 1242.0,820.8 1243.0,820.4 1244.0,820.0 1245.0,819.6 1246.0,819.3 1247.0,819.0 1248.0,818.7 1249.0,818.4 1250.0,818.1 1251.0,817.9 1252.0,817.6 1253.0,817.4 1254.0,817.2 1255.0,817.0 1256.0,816.8 1257.0,816.6 1258.0,816.4 1259.0,816.3 1260.0,816.2 1261.0,816.1 1262.0,816.1 1263.0,816.2 1264.0,816.4 1265.0,816.6 1266.0,816.9 1267.0,817.3 1268.0,817.6 1269.0,818.0 1270.0,818.3 1271.0,818.7 1272.0,819.1 1273.0,819.4 1274.0,819.8 1275.0,820.2 1276.0,820.6 1277.0,821.0 1278.0,821.4 1279.0,821.9 1280.0,822.3 1281.0,822.7 1282.0,823.2 1283.0,823.6 1284.0,824.0 1285.0,824.5 1286.0,825.0 1287.0,825.4 1288.0,825.9 1289.0,826.4 1290.0,826.9 1291.0,827.3 1292.0,827.8 1293.0,828.3 1294.0,828.8 1295.0,829.3 1296.0,829.7 1297.0,830.2 1298.0,830.6 1299.0,831.1 1300.0,831.6 1301.0,841.8 1302.0,834.8 1303.0,827.1 1304.0,818.7 1305.0,840.2 1306.0,841.5 1307.0,845.9 1308.0,820.9 1309.0,817.9 1310.0,850.6 1311.0,840.7 1312.0,821.0 1313.0,845.4 1314.0,820.5 1315.0,843.3 1316.0,840.6 1317.0,847.1 1318.0,823.9 1319.0,854.6 1320.0,855.9 1321.0,857.5 1322.0,850.0 1323.0,833.2 1324.0,858.0 1325.0,844.8 1326.0,848.6 1327.0,846.4 1328.0,829.7 1329.0,853.0 1330.0,845.8 1331.0,830.0 1332.0,835.6 1333.0,827.2 1334.0,837.5 1335.0,857.7 1336.0,835.6 1337.0,836.0 1338.0,851.2 1339.0,824.8 1340.0,826.1 1341.0,849.0 1342.0,826.3 1343.0,844.1 1344.0,851.3 1345.0,842.1 1346.0,824.4 1347.0,828.8 1348.0,841.1 1349.0,855.6 1350.0,845.2 1351.0,846.7 1352.0,843.1 1353.0,832.9 1354.0,843.7 1355.0,821.7 1356.0,836.2 1357.0,851.2 1358.0,829.1 1359.0,845.7 1360.0,848.5 1361.0,827.8 1362.0,853.8 1363.0,831.2 1364.0,858.0 1365.0,835.3 1366.0,846.0 1367.0,858.6 1368.0,854.4 1369.0,842.0 1370.0,831.4 1371.0,848.0 1372.0,847.3 1373.0,827.9 1374.0,839.7 1375.0,860.2 1376.0,845.9 1377.0,833.1 1378.0,850.9 1379.0,843.6 1380.0,861.0 1381.0,845.6 1382.0,829.1 1383.0,834.1 1384.0,835.0 1385.0,863.3 1386.0,841.9 1387.0,841.9" stroke-width="3.4" stroke-linejoin="round" stroke-linecap="round"/>
</g><path d="M1385.3,846V877.5" stroke="#ff0000" stroke-width="3" stroke-linecap="round" fill="none"/></g>
<g id="blue"><g stroke="#0000ff" fill="none" stroke-linejoin="miter" stroke-miterlimit="10">
<path d="M147.0,587.6H150.5V588.0H152.9V587.7H155.5V586.0H159.9V584.8H164.0V587.8H168.3V585.0H172.0" stroke-width="18.8"/>
<path d="M168.3,585.0H172.0V586.5H175.7V585.1H179.2V587.1H183.3V584.8H186.4V585.6H189.9V584.8H193.3" stroke-width="18.8"/>
<path d="M189.9,584.8H193.3V587.2H197.2V586.3H200.0V586.3H202.4V585.1H204.8V584.6H207.6V587.2H211.9" stroke-width="18.8"/>
<path d="M207.6,587.2H211.9V586.8H216.0V586.7H220.1V587.7H223.4V586.0H226.0V584.6H229.4V586.2H233.8" stroke-width="18.8"/>
<path d="M229.4,586.2H233.8V585.0H237.3V585.8H241.1V585.6H244.3V586.0H247.0V587.4H250.8V587.0H254.2" stroke-width="18.8"/>
<path d="M250.8,587.0H254.2V585.5H257.4V587.0H260.3V587.2H264.2V586.8H267.3V586.0H271.0V587.3H273.9" stroke-width="18.8"/>
<path d="M271.0,587.3H273.9V585.7H278.0V584.0H281.2V584.3H284.7V585.4H289.2V583.8H293.2V583.6H297.3" stroke-width="18.8"/>
<path d="M291.2,583.8 295.3,583.6 298.9,583.1 302.6,581.9 306.4,581.1 310.3,580.3 314.9,581.9 319.1,579.1" stroke-width="18.4" stroke-linejoin="round" stroke-linecap="round"/>
<path d="M314.9,581.9 319.1,579.1 323.2,577.5 327.1,577.6 331.0,574.3 334.3,573.5 338.0,571.3 342.4,569.5" stroke-width="16.8" stroke-linejoin="round" stroke-linecap="round"/>
<path d="M338.0,571.3 342.4,569.5 345.8,562.1 348.6,561.7 351.9,562.3 355.8,556.3 359.2,556.2 362.8,546.7" stroke-width="16.0" stroke-linejoin="round" stroke-linecap="round"/>
<path d="M359.2,556.2 362.8,546.7 366.7,540.1 370.6,540.7 375.0,530.9 378.8,525.8 382.1,523.2 385.0,508.4" stroke-width="16.0" stroke-linejoin="round" stroke-linecap="round"/>
<path d="M382.1,523.2 385.0,508.4 387.5,510.4 390.6,497.6 394.6,488.3 398.9,479.3 402.8,474.1 406.6,464.3" stroke-width="16.0" stroke-linejoin="round" stroke-linecap="round"/>
<path d="M402.8,474.1 406.6,464.3 410.4,459.2 414.2,433.4 418.8,419.1 422.4,411.7 425.9,411.0 430.1,405.4" stroke-width="16.0" stroke-linejoin="round" stroke-linecap="round"/>
<path d="M425.9,411.0 430.1,405.4 434.1,396.4 438.2,393.9 442.2,392.5 445.8,387.7 449.1,389.8 452.9,399.1" stroke-width="15.9" stroke-linejoin="round" stroke-linecap="round"/>
<path d="M449.1,389.8 452.9,399.1 457.3,398.5 460.9,414.8 464.3,415.1 467.9,419.1 470.7,422.9 473.5,433.5" stroke-width="15.9" stroke-linejoin="round" stroke-linecap="round"/>
<path d="M470.7,422.9 473.5,433.5 476.7,443.1 480.0,453.0 482.9,460.9 485.6,470.2 488.4,477.4 492.0,481.2" stroke-width="15.9" stroke-linejoin="round" stroke-linecap="round"/>
<path d="M488.4,477.4 492.0,481.2 495.3,489.7 498.2,500.2 501.8,497.9 504.8,508.2 507.5,510.3 511.3,517.7" stroke-width="15.9" stroke-linejoin="round" stroke-linecap="round"/>
<path d="M507.5,510.3 511.3,517.7 515.9,521.3 520.4,527.1 523.9,531.8 527.2,537.7 530.8,537.5 533.6,538.6" stroke-width="15.9" stroke-linejoin="round" stroke-linecap="round"/>
<path d="M530.8,537.5 533.6,538.6 536.4,540.8 539.9,548.6 543.7,548.5 546.9,549.8 549.2,554.1 552.0,557.3" stroke-width="15.9" stroke-linejoin="round" stroke-linecap="round"/>
<path d="M549.2,554.1 552.0,557.3 555.5,558.2 558.6,557.8 560.9,560.5 563.2,561.2 565.9,561.5 568.5,567.8" stroke-width="15.9" stroke-linejoin="round" stroke-linecap="round"/>
<path d="M565.9,561.5 568.5,567.8 570.9,566.5 573.0,565.9 575.1,570.4 577.1,571.6 579.0,571.4 581.6,569.5" stroke-width="15.9" stroke-linejoin="round" stroke-linecap="round"/>
<path d="M579.0,571.4 581.6,569.5 584.1,569.8 586.4,571.8 589.3,572.7 592.0,574.6 594.5,575.5 596.8,575.7" stroke-width="15.8" stroke-linejoin="round" stroke-linecap="round"/>
<path d="M594.5,575.5 596.8,575.7 599.2,573.6 602.1,575.4 605.0,574.1 607.7,576.7 610.6,575.4 613.8,576.5" stroke-width="15.8" stroke-linejoin="round" stroke-linecap="round"/>
<path d="M610.6,575.4 613.8,576.5 616.7,577.3 619.4,578.7 621.9,579.1 624.6,581.2 627.6,578.7 630.5,579.1" stroke-width="15.8" stroke-linejoin="round" stroke-linecap="round"/>
<path d="M629.0,579.1H632.1V581.8H634.3V582.1H637.6V582.4H639.4V582.6H642.0V582.4H643.8V582.0H645.8" stroke-width="15.8"/>
<path d="M643.8,582.0H645.8V582.8H648.7V579.9H650.5V580.5H652.8V582.9H654.7V580.5H657.8V582.0H659.6" stroke-width="15.8"/>
<path d="M657.8,582.0H659.6V580.8H661.8V581.6H664.9V583.5H667.8V582.9H670.6V582.0H674.0V581.4H675.6" stroke-width="15.8"/>
<path d="M674.0,581.4H675.6V583.9H678.4V583.4H681.4V582.4H684.3V584.4H687.2V583.6H688.9V584.9H690.7" stroke-width="15.8"/>
<path d="M688.9,584.9H690.7V583.4H693.7V584.5H696.4V582.9H698.4V583.7H700.1V584.3H702.6V580.8H704.4" stroke-width="15.8"/>
<path d="M702.6,580.8H704.4V582.5H707.4V583.0H709.6V580.4H712.6V583.5H714.4V582.9H716.9V583.6H718.7" stroke-width="15.8"/>
<path d="M715.7,582.9 717.8,583.6 720.2,580.7 723.0,580.8 725.3,582.5 728.0,579.8 731.1,581.2 733.6,578.7" stroke-width="15.8" stroke-linejoin="round" stroke-linecap="round"/>
<path d="M731.1,581.2 733.6,578.7 736.2,577.6 738.9,576.6 741.7,575.5 744.4,575.8 747.2,573.6 749.7,576.0" stroke-width="15.8" stroke-linejoin="round" stroke-linecap="round"/>
<path d="M747.2,573.6 749.7,576.0 752.0,575.9 754.6,570.7 756.8,569.6 759.4,568.3 761.6,571.9 763.5,566.8" stroke-width="15.7" stroke-linejoin="round" stroke-linecap="round"/>
<path d="M761.6,571.9 763.5,566.8 765.4,569.0 767.7,566.0 770.2,564.4 772.5,563.6 774.8,564.8 776.9,560.4" stroke-width="15.7" stroke-linejoin="round" stroke-linecap="round"/>
<path d="M774.8,564.8 776.9,560.4 779.6,563.5 782.5,560.6 785.1,557.5 787.9,555.8 790.9,556.5 793.4,554.8" stroke-width="15.7" stroke-linejoin="round" stroke-linecap="round"/>
<path d="M790.9,556.5 793.4,554.8 795.4,551.9 797.5,550.5 799.6,549.8 801.4,551.0 803.9,547.0 806.9,546.4" stroke-width="15.7" stroke-linejoin="round" stroke-linecap="round"/>
<path d="M803.9,547.0 806.9,546.4 809.4,543.0 811.5,540.5 813.9,537.5 816.7,535.6 818.9,531.0 821.6,528.9" stroke-width="15.7" stroke-linejoin="round" stroke-linecap="round"/>
<path d="M818.9,531.0 821.6,528.9 824.9,519.7 828.1,516.5 831.3,516.7 834.1,509.6 836.5,509.9 838.9,507.3" stroke-width="15.7" stroke-linejoin="round" stroke-linecap="round"/>
<path d="M836.5,509.9 838.9,507.3 841.3,501.3 843.5,495.2 845.8,497.2 847.5,495.3 849.7,492.0 852.3,493.8" stroke-width="16.8" stroke-linejoin="round" stroke-linecap="round"/>
<path d="M849.7,492.0 852.3,493.8 854.8,491.0 857.7,487.9 860.8,486.9 863.7,486.7 866.6,487.8 869.5,488.5" stroke-width="17.5" stroke-linejoin="round" stroke-linecap="round"/>
<path d="M868.1,488.5H870.9V485.1H874.2V484.8H877.3V487.6H879.0V486.7H881.1V487.7H883.4V491.6H885.5" stroke-width="17.5"/>
<path d="M882.3,487.7 884.5,491.6 886.5,494.5 889.0,497.9 891.4,499.2 893.2,495.8 895.7,499.1 898.2,504.5" stroke-width="17.5" stroke-linejoin="round" stroke-linecap="round"/>
<path d="M895.7,499.1 898.2,504.5 900.2,509.3 902.9,506.1 906.1,513.3 908.7,516.2 910.9,519.3 912.9,520.9" stroke-width="16.2" stroke-linejoin="round" stroke-linecap="round"/>
<path d="M910.9,519.3 912.9,520.9 915.6,524.8 918.8,529.0 921.1,531.3 923.4,537.7 926.0,539.9 928.6,544.7" stroke-width="15.5" stroke-linejoin="round" stroke-linecap="round"/>
<path d="M926.0,539.9 928.6,544.7 931.1,546.8 933.1,550.9 934.9,548.5 936.8,553.7 939.4,552.9 942.6,557.0" stroke-width="15.5" stroke-linejoin="round" stroke-linecap="round"/>
<path d="M939.4,552.9 942.6,557.0 945.6,559.9 948.4,559.3 950.9,560.7 953.0,562.7 955.7,561.3 959.0,565.7" stroke-width="15.5" stroke-linejoin="round" stroke-linecap="round"/>
<path d="M957.3,565.7H960.7V565.1H963.1V566.0H966.0V567.9H969.3V569.3H972.7V569.3H974.8V565.5H977.6" stroke-width="15.5"/>
<path d="M973.7,569.3 976.2,565.5 978.7,564.5 981.1,565.7 983.5,564.8 985.8,564.0 987.7,565.4 990.0,564.5" stroke-width="15.5" stroke-linejoin="round" stroke-linecap="round"/>
<path d="M987.7,565.4 990.0,564.5 992.9,562.9 995.9,562.3 998.4,561.3 1000.4,561.2 1002.7,561.6 1005.7,560.8" stroke-width="15.5" stroke-linejoin="round" stroke-linecap="round"/>
<path d="M1002.7,561.6 1005.7,560.8 1008.5,560.2 1010.7,558.9 1013.1,554.7 1016.0,555.7 1019.3,556.7 1022.4,553.8" stroke-width="15.5" stroke-linejoin="round" stroke-linecap="round"/>
<path d="M1019.3,556.7 1022.4,553.8 1025.2,554.9 1027.4,551.9 1030.0,552.3 1033.1,552.8 1036.2,550.8 1038.9,552.0" stroke-width="15.5" stroke-linejoin="round" stroke-linecap="round"/>
<path d="M1036.2,550.8 1038.9,552.0 1041.1,550.6 1043.2,553.2 1045.8,549.9 1049.0,549.4 1051.7,550.7 1054.4,548.6" stroke-width="15.5" stroke-linejoin="round" stroke-linecap="round"/>
<path d="M1052.9,548.6H1056.0V545.4H1058.3V545.8H1060.7V547.7H1063.3V546.1H1065.4V547.0H1067.4V549.8H1069.5" stroke-width="15.5"/>
<path d="M1066.4,547.0 1068.5,549.8 1070.6,550.1 1072.9,550.0 1075.0,553.0 1077.4,555.1 1079.9,553.5 1082.1,556.5" stroke-width="15.5" stroke-linejoin="round" stroke-linecap="round"/>
<path d="M1079.9,553.5 1082.1,556.5 1084.6,558.5 1087.0,563.5 1089.1,560.2 1091.5,563.6 1094.1,564.3 1097.0,568.7" stroke-width="15.5" stroke-linejoin="round" stroke-linecap="round"/>
<path d="M1094.1,564.3 1097.0,568.7 1100.1,570.9 1102.5,568.0 1105.0,573.7 1107.8,574.3 1110.5,573.2 1112.9,578.5" stroke-width="15.5" stroke-linejoin="round" stroke-linecap="round"/>
<path d="M1110.5,573.2 1112.9,578.5 1115.1,576.3 1117.7,580.8 1120.6,578.7 1123.7,582.9 1126.2,584.6 1128.7,587.8" stroke-width="15.5" stroke-linejoin="round" stroke-linecap="round"/>
<path d="M1126.2,584.6 1128.7,587.8 1131.6,588.5 1134.3,587.9 1137.3,586.4 1140.0,589.6 1142.8,590.9 1146.0,596.1" stroke-width="15.5" stroke-linejoin="round" stroke-linecap="round"/>
<path d="M1142.8,590.9 1146.0,596.1 1149.1,596.0 1151.7,595.6 1154.1,596.3 1156.4,599.2 1158.8,596.5 1161.9,601.3" stroke-width="15.5" stroke-linejoin="round" stroke-linecap="round"/>
<path d="M1158.8,596.5 1161.9,601.3 1164.4,601.4 1166.9,600.9 1169.7,603.2 1172.0,602.2 1174.5,601.5 1177.3,603.5" stroke-width="15.5" stroke-linejoin="round" stroke-linecap="round"/>
<path d="M1174.5,601.5 1177.3,603.5 1179.6,602.2 1181.5,602.8 1183.8,605.2 1186.4,607.8 1188.8,605.3 1191.0,607.4" stroke-width="15.5" stroke-linejoin="round" stroke-linecap="round"/>
<path d="M1188.8,605.3 1191.0,607.4 1193.4,610.6 1195.9,610.7 1198.5,612.1 1201.5,612.0 1204.3,612.5 1206.8,613.3" stroke-width="15.5" stroke-linejoin="round" stroke-linecap="round"/>
<path d="M1204.3,612.5 1206.8,613.3 1208.7,613.9 1211.1,613.9 1214.3,614.1 1217.3,614.2 1220.3,614.1 1223.4,616.1" stroke-width="15.5" stroke-linejoin="round" stroke-linecap="round"/>
<path d="M1222.0,616.1H1224.8V618.3H1227.5V617.3H1229.9V615.4H1232.1V618.5H1234.6V614.8H1236.6V619.1H1239.0" stroke-width="15.5"/>
<path d="M1236.6,619.1H1239.0V617.7H1241.5V617.3H1243.2V616.6H1245.5V618.6H1247.6V614.6H1250.3V614.7H1253.4" stroke-width="15.5"/>
<path d="M1250.3,614.7H1253.4V617.1H1256.1V616.1H1258.9V616.6H1261.6V617.3H1263.6V614.9H1265.9V619.5H1269.0" stroke-width="15.5"/>
<path d="M1265.9,619.5H1269.0V618.0H1272.3V615.2H1274.3V618.4H1275.9V617.4H1279.2V618.2H1282.3V618.4H1285.0" stroke-width="15.5"/>
<path d="M1282.3,618.4H1285.0V619.7H1288.1V615.4H1290.7V619.7H1294.0V617.2H1296.0V615.8H1298.4V616.7H1301.2" stroke-width="15.5"/>
<path d="M1298.4,616.7H1301.2V616.6H1303.2V619.3H1306.1V617.4H1308.2V615.2H1311.0V618.4H1314.1V617.3H1316.4" stroke-width="15.5"/>
<path d="M1314.1,617.3H1316.4V618.9H1319.8V615.0H1322.5V619.1H1325.5V619.2H1327.1V614.8H1329.0V617.2H1331.8" stroke-width="15.5"/>
<path d="M1329.0,617.2H1331.8V615.4H1335.1V617.4H1337.8V615.2H1341.0V619.2H1342.8V615.7H1346.0V618.1H1349.1" stroke-width="15.5"/>
<path d="M1346.0,618.1H1349.1V618.0H1351.8V616.3H1354.2V615.8H1357.1V619.3H1359.1V614.9H1361.9V615.9H1364.8" stroke-width="15.5"/>
<path d="M1361.9,615.9H1364.8V616.3H1367.3V617.6H1369.4V616.5H1371.0V615.2H1373.0V617.5H1376.1V618.2H1378.1" stroke-width="15.5"/>
<path d="M1376.1,618.2H1378.1V618.1H1379.9V617.0H1381.9V616.1H1384.4V614.6H1387.1V617.2H1388.0" stroke-width="15.5"/>
<path d="M147.0,586.3 148.0,586.3 149.0,586.3 150.0,586.3 151.0,586.3 152.0,586.2 153.0,586.2 154.0,586.2 155.0,586.2 156.0,586.2 157.0,586.2 158.0,586.2 159.0,586.2 160.0,586.1 161.0,586.1 162.0,586.1 163.0,586.1 164.0,586.1 165.0,586.1 166.0,586.1 167.0,586.1 168.0,586.1 169.0,586.0 170.0,586.0 171.0,586.0 172.0,586.0 173.0,586.0 174.0,586.0 175.0,586.0 176.0,586.0 177.0,586.0 178.0,585.9 179.0,585.9 180.0,585.9 181.0,585.9 182.0,585.9 183.0,585.9 184.0,585.9 185.0,585.9 186.0,585.9 187.0,585.9 188.0,585.9 189.0,585.9 190.0,585.9 191.0,585.8 192.0,585.8 193.0,585.8 194.0,585.8 195.0,585.8 196.0,585.8 197.0,585.8 198.0,585.8 199.0,585.8 200.0,585.8 201.0,585.8 202.0,585.8 203.0,585.8 204.0,585.8 205.0,585.8 206.0,585.8 207.0,585.8 208.0,585.8 209.0,585.8 210.0,585.8 211.0,585.8 212.0,585.8 213.0,585.8 214.0,585.8 215.0,585.8 216.0,585.8 217.0,585.8 218.0,585.8 219.0,585.8 220.0,585.8 221.0,585.8 222.0,585.8 223.0,585.8 224.0,585.8 225.0,585.8 226.0,585.8 227.0,585.8 228.0,585.8 229.0,585.8 230.0,585.8 231.0,585.8 232.0,585.8 233.0,585.8 234.0,585.8 235.0,585.8 236.0,585.8 237.0,585.8 238.0,585.8 239.0,585.8 240.0,585.8 241.0,585.8 242.0,585.8 243.0,585.8 244.0,585.8 245.0,585.8 246.0,585.8 247.0,585.8 248.0,585.8 249.0,585.8 250.0,585.8 251.0,585.8 252.0,585.8 253.0,585.8 254.0,585.8 255.0,585.8 256.0,585.8 257.0,585.8 258.0,585.8 259.0,585.8 260.0,585.8 261.0,585.8 262.0,585.8 263.0,585.8 264.0,585.8 265.0,585.8 266.0,585.8 267.0,585.8 268.0,585.8 269.0,585.8 270.0,585.8 271.0,585.8 272.0,585.8 273.0,585.8 274.0,585.8 275.0,585.7 276.0,585.7 277.0,585.6 278.0,585.6 279.0,585.5 280.0,585.4 281.0,585.4 282.0,585.3 283.0,585.2 284.0,585.1 285.0,585.0 286.0,584.9 287.0,584.8 288.0,584.7 289.0,584.5 290.0,584.4 291.0,584.3 292.0,584.2 293.0,584.1 294.0,584.0 295.0,583.9 296.0,583.8 297.0,583.7 298.0,583.6 299.0,583.5 300.0,583.4 301.0,583.3 302.0,583.2 303.0,583.1 304.0,583.0 305.0,582.8 306.0,582.7 307.0,582.6 308.0,582.4 309.0,582.3 310.0,582.1 311.0,582.0 312.0,581.8 313.0,581.6 314.0,581.4 315.0,581.2 316.0,580.9 317.0,580.7 318.0,580.3 319.0,579.9 320.0,579.4 321.0,578.9 322.0,578.4 323.0,577.8 324.0,577.3 325.0,576.7 326.0,576.1 327.0,575.6 328.0,575.1 329.0,574.6 330.0,574.1 331.0,573.7 332.0,573.2 333.0,572.7 334.0,572.2 335.0,571.7 336.0,571.1 337.0,570.6 338.0,570.0 339.0,569.3 340.0,568.7 341.0,568.0 342.0,567.3 343.0,566.6 344.0,565.9 345.0,565.1 346.0,564.3 347.0,563.6 348.0,562.8 349.0,562.0 350.0,561.2 351.0,560.4 352.0,559.6 353.0,558.8 354.0,558.0 355.0,557.2 356.0,556.3 357.0,555.4 358.0,554.5 359.0,553.5 360.0,552.4 361.0,551.3 362.0,550.0 363.0,548.7 364.0,547.3 365.0,545.9 366.0,544.4 367.0,553.6 368.0,531.6 369.0,549.4 370.0,550.7 371.0,519.0 372.0,537.9 373.0,531.6 374.0,537.3 375.0,548.0 376.0,539.5 377.0,515.9 378.0,529.3 379.0,528.0 380.0,497.0 381.0,501.0 382.0,511.6 383.0,497.8 384.0,498.7 385.0,521.2 386.0,537.5 387.0,504.4 388.0,512.2 389.0,517.0 390.0,509.3 391.0,506.3 392.0,466.1 393.0,515.3 394.0,472.6 395.0,471.8 396.0,488.5 397.0,490.5 398.0,498.8 399.0,470.0 400.0,508.2 401.0,485.1 402.0,498.0 403.0,472.2 404.0,440.7 405.0,432.5 406.0,475.9 407.0,458.9 408.0,457.1 409.0,444.7 410.0,427.8 411.0,450.0 412.0,427.0 413.0,481.1 414.0,412.3 415.0,482.2 416.0,467.7 417.0,422.6 418.0,452.2 419.0,432.0 420.0,421.0 421.0,445.5 422.0,443.8 423.0,393.5 424.0,443.5 425.0,377.4 426.0,374.7 427.0,406.4 428.0,393.7 429.0,399.6 430.0,401.0 431.0,399.0 432.0,419.6 433.0,417.7 434.0,390.4 435.0,387.2 436.0,400.2 437.0,382.9 438.0,390.1 439.0,399.5 440.0,375.8 441.0,399.9 442.0,398.2 443.0,388.4 444.0,383.9 445.0,392.1 446.0,385.2 447.0,400.6 448.0,393.8 449.0,385.9 450.0,402.4 451.0,396.1 452.0,378.6 453.0,391.0 454.0,395.0 455.0,419.8 456.0,389.4 457.0,397.8 458.0,432.0 459.0,399.9 460.0,427.5 461.0,379.8 462.0,403.3 463.0,389.5 464.0,443.2 465.0,420.0 466.0,398.0 467.0,389.4 468.0,418.7 469.0,394.3 470.0,428.2 471.0,449.0 472.0,420.1 473.0,410.6 474.0,429.3 475.0,415.5 476.0,471.1 477.0,414.2 478.0,467.3 479.0,439.1 480.0,471.5 481.0,477.8 482.0,429.2 483.0,482.2 484.0,502.1 485.0,472.4 486.0,481.4 487.0,460.8 488.0,452.0 489.0,496.7 490.0,504.2 491.0,464.4 492.0,460.7 493.0,479.4 494.0,496.4 495.0,484.3 496.0,519.3 497.0,509.9 498.0,518.4 499.0,502.1 500.0,511.7 501.0,524.0 502.0,478.0 503.0,506.8 504.0,489.6 505.0,521.1 506.0,495.2 507.0,521.2 508.0,503.5 509.0,519.6 510.0,522.3 511.0,535.6 512.0,534.9 513.0,516.1 514.0,528.2 515.0,507.1 516.0,504.5 517.0,532.8 518.0,542.9 519.0,536.4 520.0,528.0 521.0,533.4 522.0,538.6 523.0,533.1 524.0,526.9 525.0,546.6 526.0,529.3 527.0,550.5 528.0,547.0 529.0,547.6 530.0,550.1 531.0,557.3 532.0,558.2 533.0,540.6 534.0,537.4 535.0,550.3 536.0,560.3 537.0,548.2 538.0,527.7 539.0,529.2 540.0,545.5 541.0,557.1 542.0,561.5 543.0,545.1 544.0,550.1 545.0,550.8 546.0,537.5 547.0,534.8 548.0,553.3 549.0,553.5 550.0,565.9 551.0,544.6 552.0,566.8 553.0,549.1 554.0,557.7 555.0,563.6 556.0,546.8 557.0,573.0 558.0,574.0 559.0,575.0 560.0,544.4 561.0,565.1 562.0,566.6 563.0,574.1 564.0,553.8 565.0,551.9 566.0,573.3 567.0,557.7 568.0,551.8 569.0,553.3 570.0,570.1 571.0,567.5 572.0,574.2 573.0,576.4 574.0,553.3 575.0,581.1 576.0,579.7 577.0,581.6 578.0,576.8 579.0,567.0 580.0,563.5 581.0,581.9 582.0,568.8 583.0,570.7 584.0,576.3 585.0,576.2 586.0,576.5 587.0,574.8 588.0,572.2 589.0,579.2 590.0,570.0 591.0,566.5 592.0,584.0 593.0,582.3 594.0,578.8 595.0,564.6 596.0,561.1 597.0,585.4 598.0,586.3 599.0,568.4 600.0,577.7 601.0,561.3 602.0,572.5 603.0,580.5 604.0,572.1 605.0,584.1 606.0,587.6 607.0,566.5 608.0,581.5 609.0,573.9 610.0,568.5 611.0,573.8 612.0,577.5 613.0,589.0 614.0,585.4 615.0,564.8 616.0,566.7 617.0,592.8 618.0,580.6 619.0,582.1 620.0,576.1 621.0,588.6 622.0,581.2 623.0,582.3 624.0,573.8 625.0,587.5 626.0,572.6 627.0,570.4 628.0,583.0 629.0,589.9 630.0,575.4 631.0,575.8 632.0,571.4 633.0,583.6 634.0,588.4 635.0,571.0 636.0,582.1 637.0,582.3 638.0,570.7 639.0,582.1 640.0,575.7 641.0,573.6 642.0,595.1 643.0,570.6 644.0,577.8 645.0,584.5 646.0,579.5 647.0,568.6 648.0,591.5 649.0,575.1 650.0,579.8 651.0,592.8 652.0,594.6 653.0,593.0 654.0,579.8 655.0,588.1 656.0,591.0 657.0,574.0 658.0,594.6 659.0,571.2 660.0,585.8 661.0,575.2 662.0,574.5 663.0,572.3 664.0,594.0 665.0,572.0 666.0,593.2 667.0,573.2 668.0,577.8 669.0,574.5 670.0,595.7 671.0,571.1 672.0,592.0 673.0,577.3 674.0,594.9 675.0,589.0 676.0,576.4 677.0,582.7 678.0,573.6 679.0,580.5 680.0,569.7 681.0,587.2 682.0,584.9 683.0,576.9 684.0,569.5 685.0,594.5 686.0,572.8 687.0,578.5 688.0,569.9 689.0,580.0 690.0,580.4 691.0,583.4 692.0,578.4 693.0,576.4 694.0,590.0 695.0,577.2 696.0,578.6 697.0,582.5 698.0,577.0 699.0,588.4 700.0,571.6 701.0,578.4 702.0,580.9 703.0,576.5 704.0,591.7 705.0,579.1 706.0,580.8 707.0,582.0 708.0,591.4 709.0,575.1 710.0,591.4 711.0,595.0 712.0,576.1 713.0,573.1 714.0,590.0 715.0,577.1 716.0,574.4 717.0,569.7 718.0,584.3 719.0,593.3 720.0,591.5 721.0,583.3 722.0,579.7 723.0,593.9 724.0,584.7 725.0,593.1 726.0,585.2 727.0,585.3 728.0,585.2 729.0,569.9 730.0,573.4 731.0,567.7 732.0,591.3 733.0,592.9 734.0,581.5 735.0,569.4 736.0,568.2 737.0,577.0 738.0,575.3 739.0,569.5 740.0,566.0 741.0,580.8 742.0,584.7 743.0,564.3 744.0,571.3 745.0,570.7 746.0,576.6 747.0,577.9 748.0,572.8 749.0,584.9 750.0,571.6 751.0,568.8 752.0,580.9 753.0,582.9 754.0,583.6 755.0,563.2 756.0,563.6 757.0,570.9 758.0,585.0 759.0,574.0 760.0,573.6 761.0,565.4 762.0,584.2 763.0,560.1 764.0,570.1 765.0,573.0 766.0,576.7 767.0,576.3 768.0,564.0 769.0,560.1 770.0,580.4 771.0,566.8 772.0,559.1 773.0,554.1 774.0,572.9 775.0,573.9 776.0,565.0 777.0,559.8 778.0,566.7 779.0,576.4 780.0,563.4 781.0,569.2 782.0,571.9 783.0,567.4 784.0,559.2 785.0,549.4 786.0,564.0 787.0,567.9 788.0,571.8 789.0,546.1 790.0,544.2 791.0,559.4 792.0,565.1 793.0,540.8 794.0,557.0 795.0,546.0 796.0,569.0 797.0,547.7 798.0,537.3 799.0,559.5 800.0,543.5 801.0,546.7 802.0,535.7 803.0,542.1 804.0,534.0 805.0,537.7 806.0,547.5 807.0,537.4 808.0,549.0 809.0,557.5 810.0,544.0 811.0,521.9 812.0,558.3 813.0,526.5 814.0,531.6 815.0,537.2 816.0,539.8 817.0,527.3 818.0,530.1 819.0,536.3 820.0,527.8 821.0,518.1 822.0,522.7 823.0,520.0 824.0,514.1 825.0,526.2 826.0,521.1 827.0,515.8 828.0,527.1 829.0,530.8 830.0,521.7 831.0,507.7 832.0,533.0 833.0,493.8 834.0,524.0 835.0,506.2 836.0,503.9 837.0,521.7 838.0,511.5 839.0,524.7 840.0,518.3 841.0,485.5 842.0,499.9 843.0,508.2 844.0,482.4 845.0,497.4 846.0,511.5 847.0,487.1 848.0,483.0 849.0,488.0 850.0,489.2 851.0,487.3 852.0,490.7 853.0,499.8 854.0,491.6 855.0,492.9 856.0,481.2 857.0,479.8 858.0,500.9 859.0,486.3 860.0,500.0 861.0,485.4 862.0,491.5 863.0,491.7 864.0,478.4 865.0,477.7 866.0,486.3 867.0,478.8 868.0,482.8 869.0,479.9 870.0,482.9 871.0,486.2 872.0,483.0 873.0,483.6 874.0,486.8 875.0,490.9 876.0,475.8 877.0,498.5 878.0,485.7 879.0,497.0 880.0,475.1 881.0,476.3 882.0,477.4 883.0,499.8 884.0,487.1 885.0,500.5 886.0,497.0 887.0,479.2 888.0,489.6 889.0,489.7 890.0,494.6 891.0,505.0 892.0,484.0 893.0,513.2 894.0,499.3 895.0,496.8 896.0,508.0 897.0,495.4 898.0,510.8 899.0,502.2 900.0,505.2 901.0,495.3 902.0,496.7 903.0,523.7 904.0,513.2 905.0,509.0 906.0,524.8 907.0,533.1 908.0,500.6 909.0,541.0 910.0,495.4 911.0,525.0 912.0,510.9 913.0,511.8 914.0,524.2 915.0,530.1 916.0,524.7 917.0,538.1 918.0,551.3 919.0,516.3 920.0,521.2 921.0,538.5 922.0,532.0 923.0,529.2 924.0,538.1 925.0,547.0 926.0,557.7 927.0,560.0 928.0,555.4 929.0,538.0 930.0,560.0 931.0,553.5 932.0,534.4 933.0,565.4 934.0,539.6 935.0,556.0 936.0,557.3 937.0,566.4 938.0,557.9 939.0,570.7 940.0,538.5 941.0,538.7 942.0,545.6 943.0,558.5 944.0,555.0 945.0,544.2 946.0,549.2 947.0,561.2 948.0,556.9 949.0,567.9 950.0,559.8 951.0,572.5 952.0,569.1 953.0,561.9 954.0,558.5 955.0,554.5 956.0,557.6 957.0,560.2 958.0,561.1 959.0,556.3 960.0,565.7 961.0,555.8 962.0,577.4 963.0,568.4 964.0,556.4 965.0,562.8 966.0,560.9 967.0,558.1 968.0,566.9 969.0,558.8 970.0,557.8 971.0,572.3 972.0,565.4 973.0,571.4 974.0,566.2 975.0,566.8 976.0,561.9 977.0,564.8 978.0,565.9 979.0,562.2 980.0,574.6 981.0,559.0 982.0,558.1 983.0,561.3 984.0,572.6 985.0,574.2 986.0,566.0 987.0,560.8 988.0,567.8 989.0,572.6 990.0,556.6 991.0,567.5 992.0,568.4 993.0,559.9 994.0,552.4 995.0,564.6 996.0,553.8 997.0,558.0 998.0,562.1 999.0,574.0 1000.0,550.5 1001.0,547.9 1002.0,560.6 1003.0,572.1 1004.0,546.2 1005.0,562.4 1006.0,545.0 1007.0,559.4 1008.0,547.3 1009.0,561.7 1010.0,553.9 1011.0,561.0 1012.0,550.5 1013.0,544.7 1014.0,547.8 1015.0,550.2 1016.0,546.8 1017.0,547.7 1018.0,556.5 1019.0,553.9 1020.0,563.9 1021.0,555.0 1022.0,555.7 1023.0,560.1 1024.0,564.1 1025.0,556.4 1026.0,541.5 1027.0,553.3 1028.0,541.1 1029.0,556.4 1030.0,541.8 1031.0,554.4 1032.0,544.0 1033.0,562.9 1034.0,542.1 1035.0,557.0 1036.0,558.1 1037.0,546.9 1038.0,554.8 1039.0,548.1 1040.0,545.9 1041.0,545.7 1042.0,538.1 1043.0,555.9 1044.0,539.2 1045.0,542.8 1046.0,539.1 1047.0,558.8 1048.0,550.9 1049.0,549.2 1050.0,551.7 1051.0,557.9 1052.0,552.2 1053.0,549.1 1054.0,543.7 1055.0,548.5 1056.0,561.6 1057.0,549.2 1058.0,546.9 1059.0,558.2 1060.0,534.7 1061.0,535.0 1062.0,555.1 1063.0,559.5 1064.0,534.9 1065.0,534.2 1066.0,533.9 1067.0,550.4 1068.0,538.4 1069.0,550.9 1070.0,554.4 1071.0,535.1 1072.0,562.3 1073.0,543.9 1074.0,553.4 1075.0,548.3 1076.0,548.5 1077.0,551.2 1078.0,537.6 1079.0,553.5 1080.0,548.7 1081.0,552.6 1082.0,546.4 1083.0,553.3 1084.0,565.6 1085.0,576.7 1086.0,550.6 1087.0,573.6 1088.0,565.4 1089.0,549.4 1090.0,547.0 1091.0,576.7 1092.0,556.4 1093.0,552.6 1094.0,570.5 1095.0,572.7 1096.0,579.6 1097.0,567.6 1098.0,562.7 1099.0,563.4 1100.0,560.2 1101.0,573.4 1102.0,584.1 1103.0,557.6 1104.0,568.1 1105.0,567.5 1106.0,559.0 1107.0,575.4 1108.0,589.0 1109.0,567.2 1110.0,581.3 1111.0,587.9 1112.0,568.7 1113.0,589.8 1114.0,584.5 1115.0,581.7 1116.0,568.3 1117.0,571.8 1118.0,566.2 1119.0,593.0 1120.0,590.6 1121.0,567.7 1122.0,582.8 1123.0,573.7 1124.0,591.5 1125.0,585.8 1126.0,598.5 1127.0,591.6 1128.0,573.2 1129.0,582.4 1130.0,588.1 1131.0,598.9 1132.0,583.4 1133.0,578.2 1134.0,581.5 1135.0,580.7 1136.0,578.0 1137.0,584.3 1138.0,581.8 1139.0,589.7 1140.0,602.2 1141.0,604.9 1142.0,580.6 1143.0,593.5 1144.0,597.3 1145.0,582.1 1146.0,594.2 1147.0,584.9 1148.0,590.7 1149.0,590.0 1150.0,604.7 1151.0,588.1 1152.0,597.2 1153.0,598.8 1154.0,592.3 1155.0,610.1 1156.0,593.1 1157.0,593.3 1158.0,603.6 1159.0,598.4 1160.0,605.2 1161.0,589.3 1162.0,589.5 1163.0,606.6 1164.0,597.5 1165.0,611.0 1166.0,593.6 1167.0,594.1 1168.0,612.0 1169.0,598.3 1170.0,591.0 1171.0,594.7 1172.0,610.2 1173.0,596.6 1174.0,604.5 1175.0,612.8 1176.0,606.4 1177.0,610.8 1178.0,617.9 1179.0,599.0 1180.0,615.2 1181.0,606.0 1182.0,596.7 1183.0,594.8 1184.0,601.0 1185.0,595.5 1186.0,613.5 1187.0,607.6 1188.0,593.2 1189.0,617.7 1190.0,609.5 1191.0,606.0 1192.0,597.3 1193.0,607.3 1194.0,620.7 1195.0,610.8 1196.0,608.1 1197.0,612.2 1198.0,611.0 1199.0,613.5 1200.0,601.9 1201.0,600.7 1202.0,596.6 1203.0,621.2 1204.0,597.1 1205.0,605.5 1206.0,614.7 1207.0,612.9 1208.0,624.9 1209.0,605.4 1210.0,602.6 1211.0,604.4 1212.0,614.2 1213.0,608.9 1214.0,613.7 1215.0,620.0 1216.0,610.5 1217.0,619.8 1218.0,601.8 1219.0,617.0 1220.0,627.7 1221.0,628.8 1222.0,618.3 1223.0,630.6 1224.0,609.3 1225.0,611.4 1226.0,615.7 1227.0,617.2 1228.0,625.9 1229.0,615.8 1230.0,604.1 1231.0,622.2 1232.0,609.5 1233.0,627.7 1234.0,609.2 1235.0,611.7 1236.0,607.0 1237.0,611.9 1238.0,619.5 1239.0,610.8 1240.0,604.2 1241.0,619.1 1242.0,623.2 1243.0,606.1 1244.0,615.2 1245.0,604.8 1246.0,603.2 1247.0,613.9 1248.0,611.4 1249.0,627.5 1250.0,603.1 1251.0,620.7 1252.0,623.3 1253.0,615.0 1254.0,617.1 1255.0,610.3 1256.0,610.4 1257.0,604.4 1258.0,628.5 1259.0,603.6 1260.0,607.0 1261.0,623.0 1262.0,616.1 1263.0,617.3 1264.0,611.7 1265.0,607.7 1266.0,625.3 1267.0,606.6 1268.0,611.8 1269.0,623.9 1270.0,611.8 1271.0,630.0 1272.0,608.2 1273.0,617.8 1274.0,618.0 1275.0,617.2 1276.0,624.7 1277.0,604.2 1278.0,618.3 1279.0,625.1 1280.0,604.4 1281.0,618.3 1282.0,615.9 1283.0,614.9 1284.0,618.1 1285.0,620.4 1286.0,622.6 1287.0,628.5 1288.0,621.3 1289.0,631.7 1290.0,621.5 1291.0,611.1 1292.0,607.4 1293.0,605.1 1294.0,611.1 1295.0,606.6 1296.0,622.1 1297.0,622.3 1298.0,620.1 1299.0,614.4 1300.0,616.5 1301.0,610.8 1302.0,629.2 1303.0,603.4 1304.0,612.6 1305.0,619.0 1306.0,608.5 1307.0,627.2 1308.0,616.9 1309.0,614.0 1310.0,604.8 1311.0,611.5 1312.0,619.5 1313.0,611.5 1314.0,604.3 1315.0,619.2 1316.0,612.1 1317.0,627.0 1318.0,622.3 1319.0,623.2 1320.0,628.3 1321.0,625.9 1322.0,612.8 1323.0,618.9 1324.0,610.8 1325.0,609.1 1326.0,609.2 1327.0,606.3 1328.0,610.2 1329.0,609.7 1330.0,621.8 1331.0,610.5 1332.0,604.2 1333.0,615.4 1334.0,609.0 1335.0,622.3 1336.0,609.6 1337.0,618.6 1338.0,608.2 1339.0,616.9 1340.0,627.6 1341.0,612.0 1342.0,617.8 1343.0,615.8 1344.0,604.9 1345.0,603.3 1346.0,626.8 1347.0,613.1 1348.0,622.1 1349.0,615.1 1350.0,626.7 1351.0,608.7 1352.0,616.9 1353.0,618.3 1354.0,625.3 1355.0,603.5 1356.0,613.7 1357.0,616.7 1358.0,619.4 1359.0,607.0 1360.0,618.2 1361.0,622.3 1362.0,623.5 1363.0,609.6 1364.0,615.8 1365.0,611.8 1366.0,614.3 1367.0,613.6 1368.0,630.0 1369.0,602.9 1370.0,630.1 1371.0,603.5 1372.0,604.9 1373.0,608.9 1374.0,611.4 1375.0,627.2 1376.0,626.7 1377.0,629.7 1378.0,614.3 1379.0,602.9 1380.0,620.3 1381.0,628.5 1382.0,605.8 1383.0,626.3 1384.0,602.4 1385.0,623.3 1386.0,616.9 1387.0,628.7" stroke-width="3.2" stroke-linejoin="round" stroke-linecap="round"/>
</g></g>
<g id="green"><g stroke="#00ff00" fill="none" stroke-linejoin="miter" stroke-miterlimit="10">
<path d="M147.0,366.8H151.9V363.0H157.6V364.3H163.0V364.8H166.6V364.4H170.5V362.4H176.2V364.3H179.1" stroke-width="16.0"/>
<path d="M176.2,364.3H179.1V362.8H184.6V362.6H190.1V365.1H194.5V362.4H198.4V363.3H202.2V364.3H205.9" stroke-width="16.0"/>
<path d="M202.2,364.3H205.9V364.0H210.2V363.3H214.7V364.1H219.4V362.7H225.5V363.1H230.9V363.7H235.8" stroke-width="16.0"/>
<path d="M230.9,363.7H235.8V363.0H241.8V362.7H245.4V361.7H248.8V362.2H253.7V361.5H256.8V362.7H259.8" stroke-width="16.0"/>
<path d="M256.8,362.7H259.8V361.3H264.3V361.5H268.7V362.4H274.6V361.3H279.5V360.5H284.0V361.3H288.5" stroke-width="16.0"/>
<path d="M284.0,361.3H288.5V356.3H292.2V356.2H295.2V355.1H298.7V353.3H303.8V353.9H307.4V351.0H311.4" stroke-width="16.0"/>
<path d="M307.4,351.0H311.4V352.2H314.4V353.6H319.9V352.2H323.3V351.8H327.1V351.7H332.8V350.9H337.3" stroke-width="16.0"/>
<path d="M332.8,350.9H337.3V348.1H342.9V342.4H347.9V333.8H353.1V327.8H356.3V321.4H361.0V315.3H365.5" stroke-width="16.2"/>
<path d="M361.0,315.3H365.5V311.0H371.2V299.0H375.2V286.7H380.0V269.9H383.1V257.3H387.1V247.0H390.8" stroke-width="16.5"/>
<path d="M387.1,247.0H390.8V235.4H393.8V220.3H398.4V208.7H401.7V203.2H406.4V183.6H410.1V171.1H413.8" stroke-width="16.5"/>
<path d="M410.1,171.1H413.8V146.0H417.7V151.1H421.6V129.6H424.3V126.2H427.6V115.2H430.5V115.4H433.7" stroke-width="16.5"/>
<path d="M430.5,115.4H433.7V118.2H436.3V115.3H440.9V109.5H443.7V111.8H447.6V109.5H450.6V110.8H455.0" stroke-width="16.5"/>
<path d="M450.6,110.8H455.0V116.9H458.9V115.4H461.5V123.1H465.9V138.0H470.5V149.2H475.0V146.6H478.6" stroke-width="16.5"/>
<path d="M475.0,146.6H478.6V173.7H481.3V186.1H484.0V194.3H488.6V202.9H492.2V225.3H494.9V235.6H499.4" stroke-width="16.5"/>
<path d="M494.9,235.6H499.4V258.5H503.2V265.2H506.9V276.3H510.1V279.7H513.3V290.3H516.2V297.3H518.6" stroke-width="16.5"/>
<path d="M516.2,297.3H518.6V306.1H523.0V309.7H526.3V324.1H529.8V322.8H532.7V326.5H536.4V328.2H538.5" stroke-width="16.5"/>
<path d="M536.4,328.2H538.5V328.5H541.2V331.5H543.2V334.2H545.4V334.9H549.2V333.3H552.2V334.0H554.8" stroke-width="16.5"/>
<path d="M552.2,334.0H554.8V336.1H557.5V340.1H560.7V340.0H562.9V343.9H565.6V343.9H568.4V345.1H570.7" stroke-width="16.5"/>
<path d="M567.0,343.9 569.5,345.1 571.9,347.2 574.7,348.4 577.8,347.5 580.3,348.1 582.9,350.1 585.3,351.4" stroke-width="16.5" stroke-linejoin="round" stroke-linecap="round"/>
<path d="M582.9,350.1 585.3,351.4 587.6,350.4 590.6,353.0 593.1,354.7 595.2,352.6 597.9,353.0 600.2,353.3" stroke-width="16.5" stroke-linejoin="round" stroke-linecap="round"/>
<path d="M599.4,353.3H601.1V353.9H603.8V357.3H606.8V352.6H609.3V353.4H612.2V353.3H614.2V354.9H616.2" stroke-width="16.5"/>
<path d="M614.2,354.9H616.2V352.6H618.5V354.8H620.4V353.3H622.6V353.9H625.9V356.6H628.6V353.7H630.8" stroke-width="16.5"/>
<path d="M628.6,353.7H630.8V356.0H632.9V355.1H636.2V355.4H638.6V357.5H641.9V354.3H644.4V358.1H647.0" stroke-width="16.5"/>
<path d="M644.4,358.1H647.0V357.7H650.2V356.3H653.1V352.8H655.7V355.6H658.1V354.9H661.3V355.5H663.6" stroke-width="16.5"/>
<path d="M661.3,355.5H663.6V352.6H666.9V356.3H668.6V355.9H671.0V352.1H673.5V353.1H676.8V351.7H678.9" stroke-width="16.5"/>
<path d="M676.8,351.7H678.9V355.7H681.9V356.0H684.7V356.1H687.6V353.7H690.3V353.3H693.6V352.6H695.9" stroke-width="16.5"/>
<path d="M692.0,353.3 694.7,352.6 697.0,351.4 699.2,352.8 701.0,350.6 702.9,348.7 705.5,349.1 708.6,346.0" stroke-width="16.5" stroke-linejoin="round" stroke-linecap="round"/>
<path d="M705.5,349.1 708.6,346.0 711.1,349.2 713.4,348.6 715.9,346.8 718.5,348.5 721.2,347.5 723.7,344.7" stroke-width="16.5" stroke-linejoin="round" stroke-linecap="round"/>
<path d="M721.2,347.5 723.7,344.7 726.4,342.6 729.3,341.8 731.9,340.9 734.6,340.1 736.9,339.6 738.8,341.3" stroke-width="16.5" stroke-linejoin="round" stroke-linecap="round"/>
<path d="M736.9,339.6 738.8,341.3 740.8,336.4 743.5,338.5 746.5,335.7 749.5,335.3 751.8,332.0 754.3,329.0" stroke-width="16.3" stroke-linejoin="round" stroke-linecap="round"/>
<path d="M751.8,332.0 754.3,329.0 757.5,332.2 760.6,328.3 763.4,326.8 766.3,329.2 768.8,327.6 770.5,324.1" stroke-width="15.7" stroke-linejoin="round" stroke-linecap="round"/>
<path d="M768.8,327.6 770.5,324.1 772.1,323.6 774.0,326.4 776.1,321.2 778.1,322.5 780.4,317.5 782.5,320.1" stroke-width="15.2" stroke-linejoin="round" stroke-linecap="round"/>
<path d="M780.4,317.5 782.5,320.1 784.7,314.2 787.0,314.9 789.3,310.1 791.6,311.6 793.5,312.1 796.2,305.3" stroke-width="15.0" stroke-linejoin="round" stroke-linecap="round"/>
<path d="M793.5,312.1 796.2,305.3 799.1,304.1 801.9,305.1 804.8,300.4 807.6,293.2 809.9,291.9 812.2,285.9" stroke-width="15.0" stroke-linejoin="round" stroke-linecap="round"/>
<path d="M809.9,291.9 812.2,285.9 814.4,286.1 816.7,276.4 819.9,275.7 823.1,269.1 825.5,266.0 827.5,258.9" stroke-width="15.0" stroke-linejoin="round" stroke-linecap="round"/>
<path d="M825.5,266.0 827.5,258.9 829.7,258.4 831.7,254.5 834.0,247.2 836.8,238.4 839.4,243.3 842.1,236.1" stroke-width="15.0" stroke-linejoin="round" stroke-linecap="round"/>
<path d="M839.4,243.3 842.1,236.1 845.2,226.1 847.6,227.2 850.0,219.2 853.1,216.1 855.6,215.6 857.9,212.1" stroke-width="15.0" stroke-linejoin="round" stroke-linecap="round"/>
<path d="M855.6,215.6 857.9,212.1 860.6,211.9 863.3,213.7 865.6,214.2 867.9,217.6 870.6,221.2 873.5,224.5" stroke-width="15.0" stroke-linejoin="round" stroke-linecap="round"/>
<path d="M872.0,224.5H875.1V228.7H878.1V238.0H880.3V240.4H883.2V253.6H886.3V262.9H889.5V260.9H891.4" stroke-width="15.0"/>
<path d="M887.9,262.9 890.5,260.9 892.2,267.2 894.5,269.9 896.8,269.3 899.2,272.9 902.1,283.5 904.9,283.9" stroke-width="15.0" stroke-linejoin="round" stroke-linecap="round"/>
<path d="M902.1,283.5 904.9,283.9 907.1,289.9 909.3,286.6 911.9,295.2 914.2,301.4 916.2,304.9 918.3,300.3" stroke-width="15.0" stroke-linejoin="round" stroke-linecap="round"/>
<path d="M916.2,304.9 918.3,300.3 920.6,309.1 923.6,312.2 926.2,318.9 928.5,316.2 931.0,320.4 933.2,326.5" stroke-width="15.0" stroke-linejoin="round" stroke-linecap="round"/>
<path d="M931.0,320.4 933.2,326.5 935.3,326.0 937.4,327.7 939.7,332.8 941.8,330.2 944.2,330.2 947.0,334.0" stroke-width="15.0" stroke-linejoin="round" stroke-linecap="round"/>
<path d="M945.6,334.0H948.3V334.1H950.4V334.7H952.2V337.7H955.1V339.0H957.0V335.7H958.9V334.6H960.7" stroke-width="15.0"/>
<path d="M957.9,335.7 959.8,334.6 961.6,331.4 964.1,331.5 966.7,331.4 968.9,329.8 971.5,329.9 974.4,327.3" stroke-width="15.0" stroke-linejoin="round" stroke-linecap="round"/>
<path d="M971.5,329.9 974.4,327.3 976.7,324.2 978.9,325.3 981.7,323.2 984.4,319.8 987.0,321.0 989.3,320.7" stroke-width="15.0" stroke-linejoin="round" stroke-linecap="round"/>
<path d="M987.0,321.0 989.3,320.7 991.6,315.3 994.6,316.0 997.6,315.5 1000.5,312.2 1003.1,310.2 1005.1,309.7" stroke-width="15.0" stroke-linejoin="round" stroke-linecap="round"/>
<path d="M1003.1,310.2 1005.1,309.7 1007.2,309.6 1010.0,308.9 1012.4,306.8 1014.4,302.8 1016.8,305.6 1019.5,304.1" stroke-width="15.0" stroke-linejoin="round" stroke-linecap="round"/>
<path d="M1016.8,305.6 1019.5,304.1 1022.6,296.0 1025.1,294.7 1027.0,292.7 1029.5,295.2 1032.4,293.6 1035.2,287.3" stroke-width="15.0" stroke-linejoin="round" stroke-linecap="round"/>
<path d="M1033.8,287.3H1036.6V287.9H1040.0V286.8H1043.3V288.0H1046.4V290.2H1049.4V286.0H1051.7V287.7H1054.4" stroke-width="15.0"/>
<path d="M1050.5,286.0 1053.1,287.7 1055.4,292.1 1057.9,295.6 1060.8,301.3 1063.7,302.6 1066.4,303.7 1068.7,308.8" stroke-width="15.0" stroke-linejoin="round" stroke-linecap="round"/>
<path d="M1066.4,303.7 1068.7,308.8 1071.0,317.2 1073.1,317.9 1075.5,315.8 1078.3,324.7 1080.7,323.8 1083.2,329.9" stroke-width="15.0" stroke-linejoin="round" stroke-linecap="round"/>
<path d="M1080.7,323.8 1083.2,329.9 1085.9,327.1 1088.5,335.4 1091.2,333.0 1094.3,337.6 1097.1,341.1 1099.2,341.7" stroke-width="15.0" stroke-linejoin="round" stroke-linecap="round"/>
<path d="M1097.1,341.1 1099.2,341.7 1101.6,341.3 1104.8,343.5 1107.4,346.7 1109.8,347.3 1112.7,350.9 1115.9,352.7" stroke-width="15.0" stroke-linejoin="round" stroke-linecap="round"/>
<path d="M1112.7,350.9 1115.9,352.7 1118.4,355.9 1120.2,356.0 1122.8,358.3 1125.4,357.6 1127.3,357.1 1129.6,360.4" stroke-width="15.0" stroke-linejoin="round" stroke-linecap="round"/>
<path d="M1127.3,357.1 1129.6,360.4 1132.1,365.2 1134.8,364.4 1137.2,367.2 1139.8,370.9 1142.4,370.2 1144.9,374.0" stroke-width="15.0" stroke-linejoin="round" stroke-linecap="round"/>
<path d="M1142.4,370.2 1144.9,374.0 1147.3,375.0 1149.4,372.4 1151.4,375.0 1153.4,372.8 1155.5,372.5 1158.1,374.4" stroke-width="15.0" stroke-linejoin="round" stroke-linecap="round"/>
<path d="M1155.5,372.5 1158.1,374.4 1160.7,375.7 1162.8,377.9 1165.3,374.6 1168.6,378.6 1171.8,378.4 1174.4,377.4" stroke-width="15.3" stroke-linejoin="round" stroke-linecap="round"/>
<path d="M1171.8,378.4 1174.4,377.4 1176.6,382.2 1178.8,381.2 1180.7,378.5 1182.5,382.5 1184.6,378.5 1186.8,378.5" stroke-width="16.0" stroke-linejoin="round" stroke-linecap="round"/>
<path d="M1185.8,378.5H1187.7V379.7H1189.6V382.7H1192.7V378.2H1195.2V382.6H1197.2V381.1H1200.0V378.3H1202.1" stroke-width="16.6"/>
<path d="M1200.0,378.3H1202.1V380.8H1204.6V380.3H1206.7V381.0H1209.2V382.0H1212.0V382.0H1214.5V383.8H1216.9" stroke-width="17.0"/>
<path d="M1214.5,383.8H1216.9V379.9H1219.9V383.4H1223.0V381.5H1225.0V383.4H1226.8V384.0H1228.6V384.5H1232.0" stroke-width="17.1"/>
<path d="M1228.6,384.5H1232.0V380.8H1235.3V381.8H1237.3V384.2H1240.6V384.2H1242.6V381.4H1245.1V384.2H1247.6" stroke-width="17.2"/>
<path d="M1245.1,384.2H1247.6V381.5H1250.8V381.4H1252.5V383.3H1254.7V381.9H1257.4V381.7H1259.1V381.4H1261.2" stroke-width="17.3"/>
<path d="M1259.1,381.4H1261.2V381.7H1263.6V380.2H1266.8V379.8H1269.7V383.3H1272.8V382.3H1275.7V382.9H1278.6" stroke-width="17.4"/>
<path d="M1275.7,382.9H1278.6V383.5H1281.7V380.7H1284.5V380.7H1287.5V380.9H1289.6V381.0H1291.5V383.3H1294.5" stroke-width="17.4"/>
<path d="M1291.5,383.3H1294.5V381.4H1296.4V381.1H1299.6V382.7H1302.3V380.4H1304.5V380.0H1307.8V383.0H1309.7" stroke-width="17.5"/>
<path d="M1307.8,383.0H1309.7V383.3H1312.2V381.0H1314.0V382.7H1317.3V379.7H1319.9V381.5H1322.9V382.4H1325.1" stroke-width="17.6"/>
<path d="M1322.9,382.4H1325.1V380.8H1328.1V381.2H1330.9V382.5H1333.7V382.4H1337.0V380.3H1339.4V383.0H1341.7" stroke-width="17.7"/>
<path d="M1339.4,383.0H1341.7V379.9H1344.6V384.3H1347.6V380.5H1349.9V380.8H1352.7V380.5H1354.6V384.5H1357.2" stroke-width="17.8"/>
<path d="M1354.6,384.5H1357.2V380.9H1360.2V382.5H1361.9V384.5H1364.8V384.3H1366.5V379.7H1369.8V382.1H1372.2" stroke-width="17.9"/>
<path d="M1369.8,382.1H1372.2V382.5H1374.6V383.0H1377.5V381.2H1380.0V381.1H1382.9V379.5H1384.7V379.7H1387.3" stroke-width="17.9"/>
<path d="M1384.7,379.7H1387.3V382.3H1388.0" stroke-width="18.0"/>
<path d="M147.0,365.4 148.0,365.3 149.0,365.2 150.0,365.1 151.0,365.0 152.0,364.9 153.0,364.8 154.0,364.8 155.0,364.7 156.0,364.6 157.0,364.6 158.0,364.5 159.0,364.5 160.0,364.5 161.0,364.4 162.0,364.4 163.0,364.3 164.0,364.3 165.0,364.3 166.0,364.2 167.0,364.2 168.0,364.2 169.0,364.2 170.0,364.1 171.0,364.1 172.0,364.1 173.0,364.1 174.0,364.0 175.0,364.0 176.0,364.0 177.0,364.0 178.0,364.0 179.0,363.9 180.0,363.9 181.0,363.9 182.0,363.9 183.0,363.9 184.0,363.8 185.0,363.8 186.0,363.8 187.0,363.8 188.0,363.8 189.0,363.8 190.0,363.7 191.0,363.7 192.0,363.7 193.0,363.7 194.0,363.7 195.0,363.6 196.0,363.6 197.0,363.6 198.0,363.6 199.0,363.5 200.0,363.5 201.0,363.5 202.0,363.4 203.0,363.4 204.0,363.4 205.0,363.3 206.0,363.3 207.0,363.3 208.0,363.3 209.0,363.2 210.0,363.2 211.0,363.2 212.0,363.1 213.0,363.1 214.0,363.1 215.0,363.0 216.0,363.0 217.0,363.0 218.0,362.9 219.0,362.9 220.0,362.9 221.0,362.9 222.0,362.8 223.0,362.8 224.0,362.8 225.0,362.7 226.0,362.7 227.0,362.7 228.0,362.6 229.0,362.6 230.0,362.6 231.0,362.5 232.0,362.5 233.0,362.5 234.0,362.5 235.0,362.4 236.0,362.4 237.0,362.4 238.0,362.3 239.0,362.3 240.0,362.3 241.0,362.3 242.0,362.2 243.0,362.2 244.0,362.2 245.0,362.1 246.0,362.1 247.0,362.1 248.0,362.1 249.0,362.0 250.0,362.0 251.0,362.0 252.0,361.9 253.0,361.9 254.0,361.9 255.0,361.9 256.0,361.9 257.0,361.8 258.0,361.8 259.0,361.8 260.0,361.8 261.0,361.7 262.0,361.7 263.0,361.7 264.0,361.7 265.0,361.6 266.0,361.6 267.0,361.6 268.0,361.6 269.0,361.5 270.0,361.5 271.0,361.5 272.0,361.4 273.0,361.4 274.0,361.4 275.0,361.4 276.0,361.3 277.0,361.3 278.0,361.3 279.0,361.3 280.0,361.2 281.0,361.2 282.0,361.1 283.0,361.0 284.0,360.8 285.0,360.5 286.0,360.1 287.0,359.5 288.0,358.7 289.0,357.9 290.0,357.0 291.0,356.3 292.0,355.6 293.0,355.0 294.0,354.6 295.0,354.4 296.0,354.2 297.0,354.0 298.0,353.9 299.0,353.7 300.0,353.6 301.0,353.5 302.0,353.4 303.0,353.3 304.0,353.2 305.0,353.1 306.0,353.0 307.0,353.0 308.0,352.9 309.0,352.8 310.0,352.8 311.0,352.7 312.0,352.6 313.0,352.6 314.0,352.5 315.0,352.4 316.0,352.3 317.0,352.3 318.0,352.2 319.0,352.1 320.0,352.0 321.0,351.9 322.0,351.8 323.0,351.7 324.0,351.6 325.0,351.6 326.0,351.5 327.0,351.4 328.0,351.3 329.0,351.2 330.0,351.1 331.0,351.0 332.0,350.8 333.0,350.6 334.0,350.4 335.0,350.2 336.0,349.8 337.0,349.4 338.0,349.0 339.0,348.4 340.0,347.8 341.0,347.1 342.0,346.4 343.0,345.5 344.0,344.5 345.0,343.4 346.0,332.1 347.0,344.4 348.0,346.0 349.0,338.2 350.0,350.3 351.0,334.3 352.0,332.7 353.0,324.5 354.0,347.2 355.0,322.5 356.0,333.5 357.0,322.7 358.0,341.5 359.0,340.6 360.0,300.9 361.0,339.8 362.0,320.5 363.0,298.9 364.0,314.5 365.0,294.6 366.0,312.7 367.0,298.0 368.0,304.4 369.0,300.0 370.0,308.9 371.0,318.5 372.0,324.8 373.0,293.2 374.0,301.0 375.0,264.0 376.0,286.7 377.0,322.3 378.0,258.7 379.0,309.1 380.0,287.1 381.0,260.1 382.0,289.7 383.0,251.0 384.0,292.3 385.0,223.9 386.0,224.0 387.0,266.1 388.0,243.3 389.0,217.4 390.0,239.1 391.0,223.8 392.0,234.4 393.0,243.5 394.0,248.8 395.0,196.1 396.0,225.6 397.0,250.4 398.0,215.1 399.0,229.1 400.0,185.4 401.0,232.1 402.0,209.0 403.0,228.8 404.0,217.9 405.0,222.3 406.0,158.5 407.0,202.9 408.0,162.6 409.0,164.2 410.0,164.6 411.0,176.7 412.0,175.2 413.0,198.0 414.0,121.5 415.0,135.8 416.0,146.4 417.0,172.5 418.0,150.1 419.0,145.4 420.0,157.7 421.0,147.2 422.0,125.0 423.0,108.0 424.0,129.6 425.0,149.6 426.0,129.9 427.0,100.8 428.0,120.7 429.0,117.0 430.0,121.8 431.0,120.5 432.0,134.6 433.0,111.1 434.0,112.5 435.0,116.5 436.0,124.7 437.0,117.4 438.0,111.4 439.0,118.9 440.0,110.6 441.0,121.3 442.0,105.9 443.0,102.2 444.0,115.2 445.0,106.3 446.0,115.2 447.0,110.8 448.0,109.6 449.0,100.3 450.0,116.9 451.0,99.2 452.0,125.4 453.0,123.7 454.0,108.0 455.0,101.9 456.0,128.6 457.0,115.8 458.0,103.1 459.0,118.8 460.0,110.8 461.0,119.1 462.0,128.4 463.0,144.4 464.0,140.0 465.0,113.2 466.0,129.8 467.0,131.9 468.0,160.3 469.0,113.4 470.0,137.8 471.0,164.1 472.0,137.4 473.0,130.7 474.0,149.3 475.0,139.5 476.0,185.9 477.0,124.7 478.0,139.5 479.0,131.1 480.0,184.2 481.0,159.2 482.0,211.0 483.0,214.5 484.0,222.8 485.0,173.0 486.0,151.7 487.0,191.0 488.0,239.5 489.0,223.6 490.0,170.9 491.0,225.8 492.0,251.1 493.0,261.4 494.0,240.5 495.0,259.7 496.0,262.7 497.0,229.0 498.0,207.9 499.0,265.0 500.0,217.8 501.0,247.4 502.0,306.9 503.0,264.9 504.0,265.2 505.0,306.1 506.0,253.4 507.0,315.5 508.0,308.3 509.0,267.2 510.0,266.4 511.0,249.1 512.0,320.2 513.0,260.1 514.0,243.4 515.0,324.9 516.0,299.6 517.0,308.0 518.0,315.7 519.0,260.8 520.0,268.7 521.0,305.0 522.0,269.9 523.0,309.5 524.0,327.6 525.0,323.0 526.0,322.0 527.0,284.6 528.0,303.5 529.0,346.8 530.0,300.1 531.0,325.3 532.0,300.2 533.0,349.7 534.0,312.3 535.0,325.4 536.0,330.1 537.0,337.3 538.0,348.0 539.0,338.6 540.0,326.5 541.0,315.5 542.0,338.2 543.0,349.9 544.0,314.7 545.0,341.8 546.0,322.6 547.0,332.9 548.0,334.4 549.0,337.2 550.0,352.8 551.0,340.5 552.0,332.6 553.0,342.4 554.0,335.5 555.0,334.4 556.0,333.2 557.0,337.4 558.0,330.8 559.0,329.6 560.0,325.8 561.0,338.1 562.0,333.3 563.0,353.5 564.0,354.6 565.0,337.7 566.0,345.4 567.0,356.4 568.0,340.0 569.0,345.2 570.0,343.5 571.0,349.1 572.0,361.4 573.0,334.7 574.0,362.5 575.0,351.5 576.0,356.5 577.0,351.4 578.0,360.1 579.0,344.4 580.0,354.9 581.0,343.1 582.0,350.2 583.0,355.2 584.0,342.1 585.0,337.1 586.0,360.1 587.0,361.1 588.0,356.6 589.0,348.2 590.0,357.0 591.0,340.5 592.0,357.7 593.0,355.5 594.0,356.8 595.0,353.5 596.0,347.1 597.0,360.6 598.0,354.2 599.0,361.7 600.0,351.8 601.0,342.3 602.0,355.7 603.0,357.8 604.0,367.9 605.0,366.6 606.0,341.4 607.0,362.4 608.0,348.7 609.0,360.0 610.0,352.3 611.0,350.6 612.0,354.9 613.0,355.5 614.0,359.9 615.0,358.2 616.0,359.4 617.0,352.4 618.0,359.4 619.0,351.3 620.0,357.4 621.0,354.3 622.0,356.2 623.0,339.5 624.0,355.0 625.0,347.1 626.0,352.5 627.0,341.7 628.0,359.1 629.0,367.5 630.0,351.8 631.0,343.0 632.0,358.2 633.0,343.9 634.0,367.9 635.0,343.9 636.0,352.4 637.0,355.7 638.0,343.9 639.0,351.2 640.0,349.8 641.0,361.6 642.0,371.8 643.0,352.7 644.0,364.3 645.0,345.0 646.0,357.6 647.0,354.5 648.0,350.0 649.0,365.6 650.0,362.7 651.0,343.8 652.0,349.6 653.0,365.2 654.0,372.3 655.0,357.7 656.0,367.0 657.0,371.6 658.0,361.6 659.0,358.2 660.0,346.0 661.0,351.1 662.0,357.2 663.0,368.2 664.0,348.7 665.0,351.6 666.0,338.0 667.0,359.3 668.0,352.9 669.0,362.8 670.0,346.4 671.0,358.0 672.0,358.5 673.0,353.4 674.0,344.7 675.0,351.8 676.0,360.9 677.0,344.7 678.0,340.8 679.0,353.3 680.0,346.2 681.0,363.1 682.0,363.8 683.0,369.1 684.0,364.8 685.0,357.7 686.0,344.2 687.0,363.5 688.0,359.8 689.0,360.3 690.0,358.4 691.0,363.1 692.0,346.8 693.0,356.9 694.0,352.2 695.0,347.3 696.0,346.7 697.0,340.0 698.0,350.7 699.0,347.2 700.0,348.5 701.0,361.4 702.0,354.7 703.0,354.4 704.0,366.0 705.0,340.6 706.0,349.0 707.0,335.5 708.0,346.1 709.0,363.3 710.0,334.8 711.0,355.4 712.0,359.2 713.0,347.8 714.0,356.3 715.0,346.2 716.0,343.6 717.0,347.1 718.0,337.9 719.0,341.6 720.0,341.3 721.0,362.3 722.0,341.9 723.0,338.0 724.0,359.7 725.0,334.1 726.0,360.3 727.0,355.5 728.0,348.0 729.0,342.4 730.0,334.4 731.0,330.3 732.0,329.6 733.0,338.2 734.0,339.4 735.0,355.3 736.0,341.1 737.0,357.1 738.0,345.6 739.0,327.3 740.0,339.2 741.0,326.9 742.0,321.5 743.0,351.1 744.0,331.8 745.0,326.2 746.0,322.5 747.0,338.1 748.0,333.4 749.0,318.2 750.0,338.7 751.0,326.5 752.0,340.0 753.0,332.0 754.0,332.3 755.0,330.7 756.0,335.2 757.0,345.3 758.0,338.2 759.0,317.9 760.0,329.8 761.0,322.8 762.0,318.1 763.0,320.9 764.0,322.2 765.0,341.4 766.0,333.8 767.0,337.0 768.0,331.6 769.0,322.1 770.0,323.7 771.0,324.4 772.0,319.8 773.0,322.9 774.0,331.2 775.0,310.2 776.0,316.7 777.0,321.7 778.0,325.8 779.0,324.2 780.0,326.1 781.0,306.8 782.0,308.9 783.0,312.7 784.0,311.0 785.0,323.7 786.0,332.3 787.0,319.7 788.0,298.3 789.0,307.7 790.0,321.7 791.0,325.8 792.0,313.2 793.0,306.4 794.0,305.9 795.0,312.2 796.0,320.0 797.0,303.0 798.0,296.4 799.0,286.9 800.0,291.7 801.0,317.1 802.0,306.7 803.0,323.7 804.0,281.2 805.0,294.5 806.0,310.9 807.0,302.4 808.0,271.4 809.0,288.7 810.0,296.1 811.0,297.0 812.0,285.1 813.0,268.9 814.0,309.3 815.0,280.4 816.0,289.7 817.0,279.0 818.0,253.7 819.0,262.0 820.0,249.3 821.0,255.9 822.0,254.8 823.0,264.8 824.0,258.4 825.0,258.8 826.0,279.0 827.0,233.6 828.0,237.5 829.0,273.2 830.0,256.5 831.0,251.6 832.0,240.7 833.0,251.4 834.0,234.3 835.0,265.6 836.0,261.6 837.0,235.0 838.0,214.2 839.0,260.2 840.0,228.5 841.0,242.5 842.0,252.5 843.0,246.9 844.0,249.1 845.0,228.9 846.0,244.3 847.0,224.9 848.0,214.2 849.0,222.4 850.0,215.0 851.0,230.3 852.0,231.3 853.0,202.7 854.0,203.5 855.0,211.2 856.0,212.5 857.0,225.5 858.0,224.0 859.0,224.8 860.0,217.9 861.0,217.1 862.0,208.0 863.0,211.6 864.0,198.0 865.0,227.9 866.0,210.4 867.0,201.9 868.0,213.6 869.0,214.8 870.0,231.1 871.0,199.2 872.0,213.2 873.0,246.9 874.0,246.7 875.0,235.6 876.0,234.3 877.0,219.5 878.0,262.0 879.0,254.8 880.0,240.5 881.0,218.0 882.0,224.7 883.0,239.8 884.0,238.6 885.0,217.3 886.0,248.8 887.0,253.8 888.0,245.1 889.0,254.5 890.0,253.2 891.0,259.2 892.0,270.8 893.0,267.6 894.0,255.0 895.0,283.9 896.0,272.2 897.0,272.2 898.0,283.1 899.0,286.3 900.0,292.7 901.0,292.0 902.0,286.3 903.0,290.2 904.0,267.6 905.0,292.0 906.0,275.6 907.0,277.1 908.0,270.8 909.0,286.5 910.0,267.2 911.0,299.1 912.0,305.4 913.0,308.6 914.0,279.3 915.0,304.8 916.0,317.5 917.0,278.2 918.0,289.9 919.0,296.0 920.0,306.8 921.0,294.3 922.0,312.1 923.0,306.8 924.0,319.5 925.0,316.0 926.0,323.1 927.0,308.2 928.0,326.0 929.0,328.2 930.0,328.5 931.0,305.4 932.0,340.2 933.0,326.0 934.0,318.0 935.0,324.5 936.0,327.1 937.0,328.0 938.0,321.0 939.0,322.5 940.0,326.7 941.0,339.0 942.0,330.2 943.0,317.3 944.0,331.9 945.0,325.1 946.0,318.9 947.0,349.0 948.0,330.2 949.0,336.3 950.0,333.4 951.0,324.8 952.0,347.9 953.0,348.6 954.0,329.3 955.0,335.7 956.0,334.1 957.0,327.2 958.0,338.9 959.0,341.9 960.0,340.4 961.0,337.0 962.0,317.3 963.0,324.4 964.0,331.3 965.0,335.6 966.0,328.0 967.0,329.1 968.0,338.7 969.0,315.4 970.0,323.3 971.0,323.5 972.0,342.6 973.0,320.7 974.0,314.1 975.0,325.2 976.0,329.6 977.0,316.2 978.0,334.6 979.0,316.5 980.0,329.2 981.0,314.2 982.0,334.2 983.0,314.4 984.0,328.0 985.0,331.1 986.0,314.4 987.0,308.1 988.0,321.4 989.0,319.0 990.0,318.1 991.0,325.5 992.0,316.6 993.0,316.6 994.0,315.9 995.0,314.8 996.0,313.1 997.0,305.0 998.0,309.0 999.0,307.5 1000.0,306.5 1001.0,320.0 1002.0,301.0 1003.0,303.7 1004.0,311.4 1005.0,306.0 1006.0,303.2 1007.0,306.7 1008.0,308.9 1009.0,312.6 1010.0,322.5 1011.0,317.5 1012.0,305.3 1013.0,305.2 1014.0,303.7 1015.0,297.4 1016.0,319.0 1017.0,289.2 1018.0,293.7 1019.0,306.2 1020.0,303.0 1021.0,293.6 1022.0,314.3 1023.0,296.1 1024.0,299.5 1025.0,282.7 1026.0,308.3 1027.0,281.9 1028.0,291.6 1029.0,305.3 1030.0,306.7 1031.0,304.3 1032.0,300.7 1033.0,283.9 1034.0,276.6 1035.0,289.1 1036.0,277.3 1037.0,301.9 1038.0,275.2 1039.0,285.0 1040.0,281.4 1041.0,275.3 1042.0,288.3 1043.0,276.9 1044.0,298.6 1045.0,292.1 1046.0,285.5 1047.0,296.5 1048.0,295.2 1049.0,284.3 1050.0,297.4 1051.0,301.0 1052.0,291.6 1053.0,285.9 1054.0,304.3 1055.0,308.2 1056.0,288.3 1057.0,277.7 1058.0,310.4 1059.0,302.5 1060.0,287.9 1061.0,301.5 1062.0,293.7 1063.0,321.7 1064.0,297.6 1065.0,291.3 1066.0,283.4 1067.0,301.5 1068.0,334.6 1069.0,297.5 1070.0,310.6 1071.0,338.2 1072.0,287.9 1073.0,306.9 1074.0,332.7 1075.0,297.4 1076.0,342.0 1077.0,337.3 1078.0,304.2 1079.0,326.5 1080.0,326.1 1081.0,333.7 1082.0,318.6 1083.0,323.5 1084.0,317.5 1085.0,321.3 1086.0,316.2 1087.0,350.3 1088.0,350.0 1089.0,328.5 1090.0,341.4 1091.0,334.9 1092.0,327.6 1093.0,331.6 1094.0,358.5 1095.0,333.0 1096.0,341.4 1097.0,359.5 1098.0,333.5 1099.0,353.8 1100.0,326.0 1101.0,351.6 1102.0,356.0 1103.0,358.3 1104.0,366.6 1105.0,353.8 1106.0,368.5 1107.0,339.4 1108.0,349.0 1109.0,338.1 1110.0,332.3 1111.0,349.6 1112.0,360.0 1113.0,363.4 1114.0,333.2 1115.0,372.3 1116.0,346.2 1117.0,348.7 1118.0,367.8 1119.0,370.9 1120.0,364.4 1121.0,352.2 1122.0,356.7 1123.0,369.7 1124.0,354.2 1125.0,369.4 1126.0,368.8 1127.0,359.1 1128.0,375.0 1129.0,357.9 1130.0,369.9 1131.0,366.5 1132.0,358.7 1133.0,365.0 1134.0,367.8 1135.0,366.8 1136.0,355.0 1137.0,383.0 1138.0,382.0 1139.0,356.1 1140.0,381.1 1141.0,370.5 1142.0,361.6 1143.0,378.3 1144.0,370.5 1145.0,376.2 1146.0,379.5 1147.0,373.2 1148.0,362.6 1149.0,380.0 1150.0,377.0 1151.0,382.7 1152.0,369.5 1153.0,379.7 1154.0,382.0 1155.0,371.9 1156.0,373.1 1157.0,371.7 1158.0,363.5 1159.0,369.6 1160.0,372.1 1161.0,366.8 1162.0,380.7 1163.0,374.7 1164.0,377.0 1165.0,372.2 1166.0,374.2 1167.0,381.9 1168.0,376.9 1169.0,379.1 1170.0,376.8 1171.0,379.0 1172.0,387.3 1173.0,374.4 1174.0,379.4 1175.0,382.8 1176.0,370.6 1177.0,390.3 1178.0,380.1 1179.0,375.4 1180.0,385.7 1181.0,387.2 1182.0,382.7 1183.0,389.8 1184.0,371.4 1185.0,380.8 1186.0,385.1 1187.0,389.6 1188.0,382.8 1189.0,382.1 1190.0,378.8 1191.0,381.5 1192.0,381.2 1193.0,389.2 1194.0,387.2 1195.0,385.0 1196.0,389.7 1197.0,371.0 1198.0,385.8 1199.0,380.1 1200.0,385.4 1201.0,376.8 1202.0,380.1 1203.0,387.2 1204.0,369.9 1205.0,376.6 1206.0,380.4 1207.0,388.2 1208.0,376.1 1209.0,387.6 1210.0,375.6 1211.0,377.1 1212.0,381.7 1213.0,383.8 1214.0,389.8 1215.0,389.9 1216.0,376.2 1217.0,386.5 1218.0,383.9 1219.0,379.7 1220.0,387.5 1221.0,390.8 1222.0,381.6 1223.0,391.3 1224.0,373.8 1225.0,374.9 1226.0,387.3 1227.0,378.4 1228.0,383.3 1229.0,382.0 1230.0,374.5 1231.0,386.9 1232.0,386.6 1233.0,374.5 1234.0,377.4 1235.0,388.1 1236.0,391.0 1237.0,389.9 1238.0,382.0 1239.0,379.8 1240.0,381.3 1241.0,375.3 1242.0,382.0 1243.0,376.7 1244.0,374.9 1245.0,380.1 1246.0,372.3 1247.0,381.7 1248.0,385.6 1249.0,384.6 1250.0,392.8 1251.0,390.3 1252.0,384.2 1253.0,390.7 1254.0,381.3 1255.0,388.1 1256.0,378.0 1257.0,382.3 1258.0,393.0 1259.0,383.5 1260.0,382.1 1261.0,387.8 1262.0,378.6 1263.0,388.9 1264.0,371.0 1265.0,376.8 1266.0,375.3 1267.0,377.3 1268.0,392.0 1269.0,371.1 1270.0,378.3 1271.0,383.1 1272.0,385.8 1273.0,387.5 1274.0,380.1 1275.0,376.4 1276.0,389.5 1277.0,373.8 1278.0,372.2 1279.0,376.7 1280.0,381.9 1281.0,392.0 1282.0,386.4 1283.0,382.9 1284.0,382.2 1285.0,385.5 1286.0,384.1 1287.0,379.1 1288.0,373.0 1289.0,375.9 1290.0,387.7 1291.0,384.3 1292.0,388.1 1293.0,371.6 1294.0,390.8 1295.0,380.1 1296.0,391.5 1297.0,383.5 1298.0,382.6 1299.0,388.6 1300.0,384.1 1301.0,385.1 1302.0,374.7 1303.0,383.6 1304.0,379.5 1305.0,372.5 1306.0,374.1 1307.0,381.8 1308.0,377.4 1309.0,387.3 1310.0,373.8 1311.0,370.7 1312.0,393.6 1313.0,378.6 1314.0,382.1 1315.0,376.1 1316.0,376.0 1317.0,380.5 1318.0,387.9 1319.0,371.4 1320.0,389.2 1321.0,393.4 1322.0,382.8 1323.0,379.6 1324.0,376.7 1325.0,375.4 1326.0,378.8 1327.0,389.6 1328.0,370.4 1329.0,387.8 1330.0,385.0 1331.0,370.8 1332.0,372.3 1333.0,386.6 1334.0,385.1 1335.0,378.6 1336.0,389.8 1337.0,376.0 1338.0,380.9 1339.0,373.5 1340.0,384.5 1341.0,372.7 1342.0,375.2 1343.0,387.4 1344.0,382.0 1345.0,384.9 1346.0,386.6 1347.0,383.7 1348.0,375.7 1349.0,385.7 1350.0,373.5 1351.0,377.5 1352.0,381.3 1353.0,373.5 1354.0,373.2 1355.0,384.7 1356.0,386.8 1357.0,379.8 1358.0,380.2 1359.0,376.0 1360.0,382.2 1361.0,383.2 1362.0,391.9 1363.0,371.4 1364.0,391.2 1365.0,393.6 1366.0,379.3 1367.0,386.4 1368.0,388.9 1369.0,384.7 1370.0,378.0 1371.0,384.1 1372.0,390.3 1373.0,373.2 1374.0,381.8 1375.0,370.8 1376.0,389.5 1377.0,387.7 1378.0,371.5 1379.0,386.9 1380.0,385.6 1381.0,373.7 1382.0,382.3 1383.0,385.5 1384.0,379.0 1385.0,382.0 1386.0,393.2 1387.0,384.3" stroke-width="3.2" stroke-linejoin="round" stroke-linecap="round"/>
</g></g>
</g>
<text x="260.4" y="1318.1" text-anchor="middle" font-size="72" letter-spacing="-1" dx="-0.4">20</text>
<text x="485.7" y="1318.1" text-anchor="middle" font-size="72" letter-spacing="-1" dx="-0.4">30</text>
<text x="710.9" y="1318.1" text-anchor="middle" font-size="72" letter-spacing="-1" dx="-0.4">40</text>
<text x="936.2" y="1318.1" text-anchor="middle" font-size="72" letter-spacing="-1" dx="-0.4">50</text>
<text x="1161.4" y="1318.1" text-anchor="middle" font-size="72" letter-spacing="-1" dx="-0.4">60</text>
<text x="1386.7" y="1318.1" text-anchor="middle" font-size="72" letter-spacing="-1" dx="-0.4">70</text>
<text x="784.8" y="188.7" font-size="49.5"><tspan letter-spacing="-0.7">CuAlSe</tspan><tspan class="s" dy="19.4">2</tspan><tspan dy="-19.4" font-size="60">/</tspan><tspan font-size="49.5" dx="1.6">Ga</tspan><tspan class="s" dy="19.4">2</tspan><tspan dy="-19.4" dx="0.5">S</tspan><tspan class="s" dy="19.4">3</tspan><tspan dy="-19.4" font-size="60">/</tspan><tspan font-size="49.5" dx="0.8" word-spacing="0.2">ZnS QDs</tspan></text>
<text x="900.7" y="468.9" font-size="49.5"><tspan letter-spacing="-0.7">CuAlSe</tspan><tspan class="s" dy="19.4">2</tspan><tspan dy="-19.4" font-size="60">/</tspan><tspan font-size="49.5" dx="1">Ga</tspan><tspan class="s" dy="19.4">2</tspan><tspan dy="-19.4">S</tspan><tspan class="s" dy="19.4">3&#160;</tspan><tspan dy="-19.4" dx="0.3">QDs</tspan></text>
<text x="1050.8" y="739.4" font-size="49.5"><tspan letter-spacing="-0.7">CuAlSe</tspan><tspan class="s" dy="19.4">2</tspan><tspan dy="-19.4" font-size="60">&#160;</tspan><tspan font-size="49.5">QDs</tspan></text>
<text x="1169" y="926.4" font-size="49.5"><tspan letter-spacing="-0.7">CuAlSe</tspan><tspan class="s" dy="19.4">2</tspan></text>
<text x="1226.4" y="1045.2" font-size="49.5">Ga<tspan class="s" dy="19.4">2</tspan><tspan dy="-19.4" dx="1">S</tspan><tspan class="s" dy="19.4" dx="0.6">3</tspan></text>
<text x="1265.5" y="1181.7" font-size="49.5" letter-spacing="-0.5">ZnS</text>
<text x="569.6" y="1403.8" font-size="78">2</text>
<text transform="translate(614.6,1404.2) scale(1.07,0.925)" font-size="77" font-family="'Liberation Serif',serif" font-weight="normal" style="font-family:'Liberation Serif',serif;font-weight:normal" stroke="#000" stroke-width="0.6">θ</text>
<text x="670.5" y="1403.8" font-size="77" letter-spacing="0.35">(degree)</text>
<text transform="translate(85.9,692) rotate(-90)" text-anchor="middle" font-size="75">Intensity (a.u.)</text>
</svg>
</body></html>
